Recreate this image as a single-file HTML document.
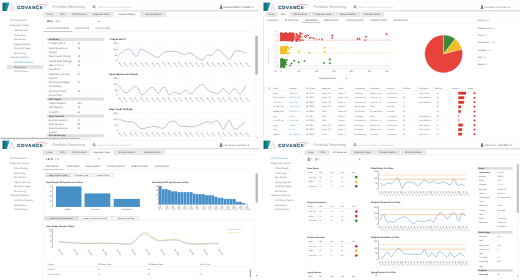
<!DOCTYPE html><html><head><meta charset="utf-8"><style>
html,body{margin:0;padding:0;background:#fff;}
body{width:520px;height:280px;overflow:hidden;position:relative;font-family:'Liberation Sans', Arial, sans-serif;text-rendering:geometricPrecision;}
.p{position:absolute;overflow:hidden;background:#fff;filter:blur(0.3px);}
.t{position:absolute;white-space:nowrap;line-height:1.15;}
.s{position:absolute;overflow:visible;}
</style></head><body>
<div class="p" style="left:0px;top:0px;width:259px;height:142px;z-index:1">
<svg class="s" style="left:0;top:0" width="259" height="142" viewBox="0 0 259 142"><defs><linearGradient id="lg1" x1="0" x2="1" y1="0" y2="0"><stop offset="0" stop-color="#0b5f6b"/><stop offset="1" stop-color="#25aebf"/></linearGradient></defs>
<polygon points="2.5,2.4 9.7,2.4 6.8,10.9 2.5,10.9" fill="url(#lg1)"/>
<polygon points="9.3,10.9 11.7,2.6 15.3,10.9" fill="#e4e1e6"/>
<polygon points="10.2,10.9 11.8,5 14.2,10.9" fill="#f3f1f3"/>
<path d="M35.0,5.7 Q41,3.0 47.4,5.4" stroke="#d9587a" stroke-width="0.5" fill="none"/><path d="M43.2,7.6 L46.2,7.0" stroke="#a9dbe6" stroke-width="0.7" fill="none"/>
<circle cx="93.9" cy="6.6" r="1.05" stroke="#555" stroke-width="0.55" fill="none"/><line x1="94.7" y1="7.4" x2="95.7" y2="8.4" stroke="#555" stroke-width="0.65"/>
<circle cx="221.1" cy="6.1" r="0.95" fill="#555"/><path d="M219.6,8.8 Q219.7,7.1 221.1,7.1 Q222.5,7.1 222.6,8.8 Z" fill="#555"/>
<line x1="0.00" y1="2.20" x2="259.00" y2="2.20" stroke="#f0f0f0" stroke-width="0.4"/>
<defs><linearGradient id="hblg1" x1="0" x2="1" y1="0" y2="0"><stop offset="0" stop-color="#dedede" stop-opacity="0"/><stop offset="0.33" stop-color="#dedede" stop-opacity="0.15"/><stop offset="0.55" stop-color="#dedede" stop-opacity="1"/><stop offset="1" stop-color="#dcdcdc"/></linearGradient></defs>
<rect x="0.00" y="10.10" width="259.00" height="1.30" fill="url(#hblg1)"/>
<rect x="43.40" y="11.90" width="11.90" height="4.70" fill="#cdcdcd" rx="0.5"/>
<rect x="43.75" y="12.30" width="11.20" height="4.00" fill="#ebebeb" rx="0.3"/>
<rect x="56.50" y="11.90" width="12.00" height="4.70" fill="#cdcdcd" rx="0.5"/>
<rect x="56.85" y="12.30" width="11.30" height="4.00" fill="#ebebeb" rx="0.3"/>
<rect x="69.70" y="11.90" width="19.40" height="4.70" fill="#cdcdcd" rx="0.5"/>
<rect x="70.05" y="12.30" width="18.70" height="4.00" fill="#ebebeb" rx="0.3"/>
<rect x="90.30" y="11.90" width="22.20" height="4.70" fill="#cdcdcd" rx="0.5"/>
<rect x="90.65" y="12.30" width="21.50" height="4.00" fill="#ebebeb" rx="0.3"/>
<rect x="113.50" y="11.70" width="26.80" height="5.30" fill="#e3e3e3"/>
<rect x="113.90" y="12.10" width="26.00" height="5.30" fill="#fff"/>
<rect x="141.30" y="11.90" width="24.60" height="4.70" fill="#cdcdcd" rx="0.5"/>
<rect x="141.65" y="12.30" width="23.90" height="4.00" fill="#ebebeb" rx="0.3"/>
<line x1="43.00" y1="17.00" x2="43.00" y2="142.00" stroke="#ededed" stroke-width="0.5"/>
<rect x="6.70" y="65.10" width="36.20" height="3.80" fill="#e3e3e3"/>
<line x1="43.00" y1="17.10" x2="259.00" y2="17.10" stroke="#ececec" stroke-width="0.4"/>
<polygon points="98.2,21.1 99.8,21.1 99,22.0" fill="#444"/>
<rect x="43.40" y="31.10" width="28.40" height="0.60" fill="#8a939b"/>
<line x1="43.00" y1="31.80" x2="255.00" y2="31.80" stroke="#e8e8e8" stroke-width="0.4"/>
<rect x="46.40" y="38.10" width="57.60" height="3.00" fill="#dedede" rx="1.5"/>
<line x1="46.40" y1="45.70" x2="104.00" y2="45.70" stroke="#f0f0f0" stroke-width="0.35"/>
<line x1="46.40" y1="54.30" x2="104.00" y2="54.30" stroke="#f0f0f0" stroke-width="0.35"/>
<line x1="46.40" y1="58.80" x2="104.00" y2="58.80" stroke="#f0f0f0" stroke-width="0.35"/>
<line x1="46.40" y1="63.10" x2="104.00" y2="63.10" stroke="#f0f0f0" stroke-width="0.35"/>
<line x1="46.40" y1="71.70" x2="104.00" y2="71.70" stroke="#f0f0f0" stroke-width="0.35"/>
<line x1="46.40" y1="80.20" x2="104.00" y2="80.20" stroke="#f0f0f0" stroke-width="0.35"/>
<line x1="46.40" y1="88.80" x2="104.00" y2="88.80" stroke="#f0f0f0" stroke-width="0.35"/>
<rect x="46.40" y="97.60" width="57.60" height="3.00" fill="#dedede" rx="1.5"/>
<line x1="46.40" y1="105.40" x2="104.00" y2="105.40" stroke="#f0f0f0" stroke-width="0.35"/>
<line x1="46.40" y1="109.70" x2="104.00" y2="109.70" stroke="#f0f0f0" stroke-width="0.35"/>
<rect x="46.40" y="114.40" width="57.60" height="3.00" fill="#dedede" rx="1.5"/>
<rect x="46.40" y="134.20" width="57.60" height="3.00" fill="#dedede" rx="1.5"/>
<line x1="46.40" y1="122.20" x2="104.00" y2="122.20" stroke="#f0f0f0" stroke-width="0.35"/>
<line x1="46.40" y1="126.40" x2="104.00" y2="126.40" stroke="#f0f0f0" stroke-width="0.35"/>
<line x1="118.20" y1="42.00" x2="118.20" y2="61.10" stroke="#c4c4c4" stroke-width="0.35"/>
<line x1="118.20" y1="43.00" x2="246.00" y2="43.00" stroke="#e4e4e4" stroke-width="0.35" stroke-dasharray="0.6,0.6"/>
<line x1="118.20" y1="49.30" x2="246.00" y2="49.30" stroke="#e4e4e4" stroke-width="0.35" stroke-dasharray="0.6,0.6"/>
<line x1="118.20" y1="54.80" x2="246.00" y2="54.80" stroke="#e4e4e4" stroke-width="0.35" stroke-dasharray="0.6,0.6"/>
<line x1="118.20" y1="60.60" x2="246.00" y2="60.60" stroke="#e4e4e4" stroke-width="0.35" stroke-dasharray="0.6,0.6"/>
<polyline points="119.00,54.50 119.79,53.93 120.90,53.10 122.21,52.14 123.58,51.19 124.89,50.36 126.00,49.80 126.91,49.46 127.71,49.24 128.46,49.14 129.17,49.21 129.91,49.45 130.70,49.90 131.55,50.78 132.43,52.12 133.33,53.64 134.23,55.07 135.13,56.11 136.00,56.50 136.80,55.99 137.54,54.77 138.27,53.16 139.05,51.52 139.94,50.19 141.00,49.50 142.28,49.53 143.74,50.02 145.31,50.82 146.93,51.77 148.51,52.71 150.00,53.50 151.40,54.27 152.76,55.16 154.09,56.05 155.41,56.81 156.71,57.30 158.00,57.40 159.23,56.95 160.39,56.03 161.53,54.84 162.72,53.60 164.02,52.52 165.50,51.80 167.23,51.44 169.17,51.29 171.23,51.28 173.29,51.39 175.25,51.58 177.00,51.80 178.54,52.14 179.97,52.66 181.29,53.24 182.53,53.81 183.69,54.26 184.80,54.50 185.74,54.40 186.49,54.00 187.16,53.49 187.89,53.03 188.79,52.81 190.00,53.00 191.63,53.79 193.62,55.10 195.79,56.63 197.96,58.13 199.95,59.31 201.60,59.90 202.86,59.78 203.87,59.13 204.71,58.16 205.46,57.10 206.19,56.14 207.00,55.50 207.84,55.25 208.64,55.22 209.44,55.30 210.24,55.37 211.09,55.31 212.00,55.00 212.93,54.24 213.86,53.08 214.83,51.79 215.88,50.64 217.06,49.89 218.40,49.80 220.01,50.70 221.89,52.44 223.88,54.57 225.87,56.67 227.72,58.30 229.30,59.00 230.52,58.55 231.47,57.26 232.28,55.48 233.09,53.60 234.01,51.98 235.20,51.00 236.79,50.72 238.72,50.85 240.77,51.25 242.74,51.76 244.42,52.23 245.60,52.50" fill="none" stroke="#8aa3be" stroke-width="0.62" stroke-linejoin="round"/>
<line x1="118.20" y1="77.00" x2="118.20" y2="96.10" stroke="#c4c4c4" stroke-width="0.35"/>
<line x1="118.20" y1="78.00" x2="246.00" y2="78.00" stroke="#e4e4e4" stroke-width="0.35" stroke-dasharray="0.6,0.6"/>
<line x1="118.20" y1="84.30" x2="246.00" y2="84.30" stroke="#e4e4e4" stroke-width="0.35" stroke-dasharray="0.6,0.6"/>
<line x1="118.20" y1="89.80" x2="246.00" y2="89.80" stroke="#e4e4e4" stroke-width="0.35" stroke-dasharray="0.6,0.6"/>
<line x1="118.20" y1="95.60" x2="246.00" y2="95.60" stroke="#e4e4e4" stroke-width="0.35" stroke-dasharray="0.6,0.6"/>
<polyline points="119.00,85.60 119.73,86.56 120.70,88.01 121.88,89.67 123.19,91.23 124.58,92.41 126.00,92.90 127.54,92.42 129.26,91.13 131.06,89.46 132.85,87.81 134.53,86.59 136.00,86.20 137.19,86.95 138.15,88.56 139.00,90.61 139.85,92.64 140.81,94.22 142.00,94.90 143.48,94.42 145.19,93.07 147.00,91.28 148.81,89.44 150.52,87.97 152.00,87.30 153.23,87.64 154.30,88.72 155.25,90.18 156.15,91.64 157.05,92.77 158.00,93.20 159.01,92.68 160.04,91.45 161.06,89.88 162.07,88.34 163.06,87.19 164.00,86.80 164.89,87.40 165.74,88.73 166.56,90.46 167.37,92.24 168.18,93.74 169.00,94.60 169.82,94.72 170.63,94.33 171.44,93.66 172.26,92.91 173.11,92.29 174.00,92.00 174.95,92.13 175.94,92.53 176.96,93.06 177.99,93.57 179.01,93.93 180.00,94.00 180.96,93.66 181.90,93.00 182.84,92.18 183.76,91.38 184.68,90.77 185.60,90.50 186.45,90.78 187.22,91.50 187.99,92.40 188.82,93.23 189.80,93.71 191.00,93.60 192.50,92.61 194.27,90.89 196.17,88.84 198.11,86.83 199.96,85.26 201.60,84.50 203.00,84.73 204.23,85.66 205.37,87.03 206.50,88.55 207.69,89.97 209.00,91.00 210.50,91.73 212.15,92.41 213.85,92.97 215.52,93.37 217.06,93.56 218.40,93.50 219.48,92.98 220.36,92.00 221.12,90.81 221.83,89.67 222.57,88.81 223.40,88.50 224.34,88.94 225.33,89.96 226.35,91.28 227.37,92.59 228.36,93.60 229.30,94.00 230.18,93.59 231.00,92.58 231.80,91.26 232.60,89.94 233.43,88.92 234.30,88.50 235.24,88.91 236.22,89.95 237.23,91.29 238.24,92.60 239.24,93.55 240.20,93.80 241.19,93.17 242.24,91.88 243.27,90.23 244.22,88.51 245.02,87.00 245.60,86.00" fill="none" stroke="#8aa3be" stroke-width="0.62" stroke-linejoin="round"/>
<line x1="118.20" y1="112.00" x2="118.20" y2="131.10" stroke="#c4c4c4" stroke-width="0.35"/>
<line x1="118.20" y1="113.00" x2="246.00" y2="113.00" stroke="#e4e4e4" stroke-width="0.35" stroke-dasharray="0.6,0.6"/>
<line x1="118.20" y1="119.30" x2="246.00" y2="119.30" stroke="#e4e4e4" stroke-width="0.35" stroke-dasharray="0.6,0.6"/>
<line x1="118.20" y1="124.80" x2="246.00" y2="124.80" stroke="#e4e4e4" stroke-width="0.35" stroke-dasharray="0.6,0.6"/>
<line x1="118.20" y1="130.60" x2="246.00" y2="130.60" stroke="#e4e4e4" stroke-width="0.35" stroke-dasharray="0.6,0.6"/>
<polyline points="119.00,119.20 119.75,119.47 120.78,119.84 122.00,120.29 123.33,120.74 124.69,121.17 126.00,121.50 127.29,121.69 128.63,121.75 130.00,121.78 131.37,121.85 132.71,122.06 134.00,122.50 135.20,123.28 136.33,124.37 137.44,125.60 138.56,126.79 139.73,127.78 141.00,128.40 142.43,128.58 144.00,128.44 145.62,128.10 147.22,127.67 148.71,127.27 150.00,127.00 151.02,126.84 151.83,126.69 152.53,126.57 153.22,126.49 154.01,126.46 155.00,126.50 156.24,126.72 157.65,127.14 159.16,127.61 160.69,128.00 162.16,128.18 163.50,128.00 164.70,127.32 165.83,126.23 166.91,124.93 167.94,123.60 168.97,122.46 170.00,121.70 171.06,121.33 172.12,121.17 173.17,121.21 174.19,121.38 175.14,121.66 176.00,122.00 176.71,122.49 177.27,123.19 177.77,123.99 178.29,124.79 178.90,125.49 179.70,126.00 180.70,126.29 181.85,126.44 183.10,126.50 184.40,126.50 185.72,126.49 187.00,126.50 188.20,126.59 189.36,126.72 190.52,126.84 191.76,126.89 193.13,126.80 194.70,126.50 196.62,125.88 198.87,124.96 201.25,123.91 203.58,122.87 205.66,122.02 207.30,121.50 208.39,121.41 209.07,121.65 209.50,122.06 209.85,122.52 210.30,122.88 211.00,123.00 212.00,122.75 213.16,122.21 214.41,121.58 215.68,121.03 216.90,120.78 218.00,121.00 218.96,121.99 219.84,123.64 220.68,125.58 221.49,127.43 222.32,128.79 223.20,129.30 224.13,128.61 225.09,126.95 226.06,124.81 227.04,122.69 228.02,121.05 229.00,120.40 229.93,121.04 230.80,122.65 231.67,124.75 232.60,126.87 233.66,128.55 234.90,129.30 236.48,128.94 238.39,127.80 240.42,126.21 242.37,124.49 244.03,122.98 245.20,122.00" fill="none" stroke="#8aa3be" stroke-width="0.62" stroke-linejoin="round"/>
<line x1="254.90" y1="35.00" x2="254.90" y2="140.00" stroke="#efefef" stroke-width="0.4"/>
<rect x="255.30" y="35.60" width="2.50" height="38.80" fill="#b4b4b4" rx="1"/>
<polygon points="255.9,137.6 257.5,137.6 256.7,138.6" fill="#666"/></svg>
<div class="t" style="left:17.3px;top:4.60px;font-size:4.4px;font-weight:bold;letter-spacing:0.62px;color:#25526f;-webkit-text-stroke:0.18px #25526f">COVANCE</div>
<div class="t" style="left:52.60px;top:5.23px;font-size:3.95px;color:#a2a2a2;">Portfolio Reporting</div>
<div class="t" style="left:98.00px;top:6.93px;font-size:2.2px;color:#b8b8b8;">Search to identify one study quickly</div>
<div class="t" style="left:223.20px;top:6.74px;font-size:2.6px;color:#606060;">ALEXANDER D CURRY &#8744;</div>
<div class="t" style="left:19.00px;top:6.40px;font-size:1.3px;color:#dcd6da;letter-spacing:0.25px;">SOLUTIONS MADE REAL</div>
<div class="t" style="left:49.35px;top:14.08px;font-size:2.2px;color:#505050;transform:translateX(-50%);">Home</div>
<div class="t" style="left:62.50px;top:14.08px;font-size:2.2px;color:#505050;transform:translateX(-50%);">SPIs</div>
<div class="t" style="left:79.40px;top:14.08px;font-size:2.2px;color:#505050;transform:translateX(-50%);">KPI Scorecard</div>
<div class="t" style="left:101.40px;top:14.08px;font-size:2.2px;color:#505050;transform:translateX(-50%);">Diagnostic Views</div>
<div class="t" style="left:126.90px;top:14.08px;font-size:2.2px;color:#494949;transform:translateX(-50%);">Standard Metrics</div>
<div class="t" style="left:153.60px;top:14.08px;font-size:2.2px;color:#505050;transform:translateX(-50%);">Standard Metrics</div>
<div class="t" style="left:38.30px;top:13.26px;font-size:3.0px;color:#666666;">&#8249;</div>
<div class="t" style="left:10.00px;top:19.84px;font-size:2.55px;color:#868686;">KPI Scorecard</div>
<div class="t" style="left:10.00px;top:25.24px;font-size:2.55px;color:#868686;">Diagnostic Views</div>
<div class="t" style="left:14.00px;top:30.24px;font-size:2.55px;color:#868686;">Sites Ready</div>
<div class="t" style="left:14.00px;top:34.64px;font-size:2.55px;color:#868686;">Screening</div>
<div class="t" style="left:14.00px;top:39.14px;font-size:2.55px;color:#868686;">Enrollment</div>
<div class="t" style="left:14.00px;top:43.74px;font-size:2.55px;color:#868686;">Aging Queries</div>
<div class="t" style="left:14.00px;top:48.24px;font-size:2.55px;color:#868686;">Missing Pages</div>
<div class="t" style="left:14.00px;top:52.64px;font-size:2.55px;color:#868686;">Monitoring</div>
<div class="t" style="left:10.00px;top:57.34px;font-size:2.55px;color:#868686;">Standard Metrics</div>
<div class="t" style="left:14.00px;top:62.04px;font-size:2.55px;color:#41a3b5;">All Other Metrics</div>
<div class="t" style="left:14.00px;top:66.74px;font-size:2.55px;color:#686868;">Milestones</div>
<div class="t" style="left:14.00px;top:71.24px;font-size:2.55px;color:#868686;">Cycle Times</div>
<div class="t" style="left:46.80px;top:21.28px;font-size:2.4px;color:#3a3a3a;font-weight:bold;">JM-A</div>
<div class="t" style="left:54.40px;top:21.25px;font-size:2.3px;color:#747474;">&#8216;USD&#8217;</div>
<div class="t" style="left:46.40px;top:28.23px;font-size:2.2px;color:#666666;">ALL OTHER METRICS</div>
<div class="t" style="left:75.20px;top:28.23px;font-size:2.2px;color:#747474;">MILESTONES</div>
<div class="t" style="left:95.50px;top:28.23px;font-size:2.2px;color:#747474;">CYCLE TIMES</div>
<div class="t" style="left:48.80px;top:39.35px;font-size:2.3px;color:#494949;font-weight:bold;">Summary</div>
<div class="t" style="left:48.80px;top:43.28px;font-size:2.4px;color:#6e6e6e;"># Pages SDV&#8217;d</div>
<div class="t" style="left:77.50px;top:43.28px;font-size:2.4px;color:#6e6e6e;">68</div>
<div class="t" style="left:48.80px;top:47.68px;font-size:2.4px;color:#6e6e6e;">Open Queries per</div>
<div class="t" style="left:77.50px;top:47.68px;font-size:2.4px;color:#6e6e6e;">75</div>
<div class="t" style="left:48.80px;top:51.78px;font-size:2.4px;color:#6e6e6e;">Subject</div>
<div class="t" style="left:48.80px;top:56.38px;font-size:2.4px;color:#6e6e6e;">Major Audit Findings</div>
<div class="t" style="left:77.50px;top:56.38px;font-size:2.4px;color:#6e6e6e;">46</div>
<div class="t" style="left:48.80px;top:60.68px;font-size:2.4px;color:#6e6e6e;">Critical Audit Findings</div>
<div class="t" style="left:77.50px;top:60.68px;font-size:2.4px;color:#6e6e6e;">34</div>
<div class="t" style="left:48.80px;top:65.08px;font-size:2.4px;color:#6e6e6e;">Major Protocol</div>
<div class="t" style="left:77.50px;top:65.08px;font-size:2.4px;color:#6e6e6e;">36</div>
<div class="t" style="left:48.80px;top:69.28px;font-size:2.4px;color:#6e6e6e;">Deviations</div>
<div class="t" style="left:48.80px;top:73.58px;font-size:2.4px;color:#6e6e6e;">Database Lock and</div>
<div class="t" style="left:77.50px;top:73.58px;font-size:2.4px;color:#6e6e6e;">27</div>
<div class="t" style="left:48.80px;top:77.78px;font-size:2.4px;color:#6e6e6e;">Reports</div>
<div class="t" style="left:48.80px;top:82.28px;font-size:2.4px;color:#6e6e6e;">Monitoring Strategy</div>
<div class="t" style="left:77.50px;top:82.28px;font-size:2.4px;color:#6e6e6e;">17</div>
<div class="t" style="left:48.80px;top:86.48px;font-size:2.4px;color:#6e6e6e;">Compliance</div>
<div class="t" style="left:48.80px;top:90.68px;font-size:2.4px;color:#6e6e6e;">Trip Report Turn</div>
<div class="t" style="left:77.50px;top:90.68px;font-size:2.4px;color:#6e6e6e;">18</div>
<div class="t" style="left:48.80px;top:94.78px;font-size:2.4px;color:#6e6e6e;">Around Time</div>
<div class="t" style="left:48.80px;top:98.85px;font-size:2.3px;color:#494949;font-weight:bold;">EDC Pages</div>
<div class="t" style="left:48.80px;top:103.08px;font-size:2.4px;color:#6e6e6e;">Pages Required</div>
<div class="t" style="left:77.50px;top:103.08px;font-size:2.4px;color:#6e6e6e;">433</div>
<div class="t" style="left:48.80px;top:107.38px;font-size:2.4px;color:#6e6e6e;">SDV Backlog</div>
<div class="t" style="left:77.50px;top:107.38px;font-size:2.4px;color:#6e6e6e;">24</div>
<div class="t" style="left:48.80px;top:111.68px;font-size:2.4px;color:#6e6e6e;">% SDV&#8217;d</div>
<div class="t" style="left:77.50px;top:111.68px;font-size:2.4px;color:#6e6e6e;">32</div>
<div class="t" style="left:48.80px;top:115.65px;font-size:2.3px;color:#494949;font-weight:bold;">Open Queries</div>
<div class="t" style="left:48.80px;top:135.45px;font-size:2.3px;color:#494949;font-weight:bold;">Site Monitoring</div>
<div class="t" style="left:48.80px;top:119.88px;font-size:2.4px;color:#6e6e6e;">Enrolled Subjects</div>
<div class="t" style="left:77.50px;top:119.88px;font-size:2.4px;color:#6e6e6e;">27</div>
<div class="t" style="left:48.80px;top:124.08px;font-size:2.4px;color:#6e6e6e;">Open Queries</div>
<div class="t" style="left:77.50px;top:124.08px;font-size:2.4px;color:#6e6e6e;">96</div>
<div class="t" style="left:48.80px;top:128.28px;font-size:2.4px;color:#6e6e6e;">Open Queries per</div>
<div class="t" style="left:77.50px;top:128.28px;font-size:2.4px;color:#6e6e6e;">79</div>
<div class="t" style="left:48.80px;top:132.48px;font-size:2.4px;color:#6e6e6e;">Subject</div>
<div class="t" style="left:109.30px;top:39.06px;font-size:2.35px;color:#2b2b2b;font-weight:bold;"># Pages SDV&#8217;d</div>
<div class="t" style="left:117.30px;top:42.74px;font-size:2.25px;color:#5b5b5b;transform:translateX(-100%);">150</div>
<div class="t" style="left:117.30px;top:49.04px;font-size:2.25px;color:#5b5b5b;transform:translateX(-100%);">100</div>
<div class="t" style="left:117.30px;top:54.54px;font-size:2.25px;color:#5b5b5b;transform:translateX(-100%);">50</div>
<div class="t" style="left:117.30px;top:60.34px;font-size:2.25px;color:#5b5b5b;transform:translateX(-100%);">0</div>
<div class="t" style="left:118.60px;top:62.40px;font-size:1.9px;color:#5e5e5e;transform:rotate(50deg);transform-origin:0 0;">Jan&nbsp;17</div>
<div class="t" style="left:124.12px;top:62.40px;font-size:1.9px;color:#5e5e5e;transform:rotate(50deg);transform-origin:0 0;">Jan&nbsp;17</div>
<div class="t" style="left:129.64px;top:62.40px;font-size:1.9px;color:#5e5e5e;transform:rotate(50deg);transform-origin:0 0;">Jan&nbsp;17</div>
<div class="t" style="left:135.16px;top:62.40px;font-size:1.9px;color:#5e5e5e;transform:rotate(50deg);transform-origin:0 0;">Jan&nbsp;17</div>
<div class="t" style="left:140.68px;top:62.40px;font-size:1.9px;color:#5e5e5e;transform:rotate(50deg);transform-origin:0 0;">Jan&nbsp;17</div>
<div class="t" style="left:146.20px;top:62.40px;font-size:1.9px;color:#5e5e5e;transform:rotate(50deg);transform-origin:0 0;">Jan&nbsp;17</div>
<div class="t" style="left:151.72px;top:62.40px;font-size:1.9px;color:#5e5e5e;transform:rotate(50deg);transform-origin:0 0;">Jan&nbsp;17</div>
<div class="t" style="left:157.24px;top:62.40px;font-size:1.9px;color:#5e5e5e;transform:rotate(50deg);transform-origin:0 0;">Jan&nbsp;17</div>
<div class="t" style="left:162.76px;top:62.40px;font-size:1.9px;color:#5e5e5e;transform:rotate(50deg);transform-origin:0 0;">Jan&nbsp;17</div>
<div class="t" style="left:168.28px;top:62.40px;font-size:1.9px;color:#5e5e5e;transform:rotate(50deg);transform-origin:0 0;">Jan&nbsp;17</div>
<div class="t" style="left:173.80px;top:62.40px;font-size:1.9px;color:#5e5e5e;transform:rotate(50deg);transform-origin:0 0;">Jan&nbsp;17</div>
<div class="t" style="left:179.32px;top:62.40px;font-size:1.9px;color:#5e5e5e;transform:rotate(50deg);transform-origin:0 0;">Jan&nbsp;17</div>
<div class="t" style="left:184.84px;top:62.40px;font-size:1.9px;color:#5e5e5e;transform:rotate(50deg);transform-origin:0 0;">Jan&nbsp;17</div>
<div class="t" style="left:190.36px;top:62.40px;font-size:1.9px;color:#5e5e5e;transform:rotate(50deg);transform-origin:0 0;">Jan&nbsp;17</div>
<div class="t" style="left:195.88px;top:62.40px;font-size:1.9px;color:#5e5e5e;transform:rotate(50deg);transform-origin:0 0;">Jan&nbsp;17</div>
<div class="t" style="left:201.40px;top:62.40px;font-size:1.9px;color:#5e5e5e;transform:rotate(50deg);transform-origin:0 0;">Jan&nbsp;17</div>
<div class="t" style="left:206.92px;top:62.40px;font-size:1.9px;color:#5e5e5e;transform:rotate(50deg);transform-origin:0 0;">Jan&nbsp;17</div>
<div class="t" style="left:212.44px;top:62.40px;font-size:1.9px;color:#5e5e5e;transform:rotate(50deg);transform-origin:0 0;">Jan&nbsp;17</div>
<div class="t" style="left:217.96px;top:62.40px;font-size:1.9px;color:#5e5e5e;transform:rotate(50deg);transform-origin:0 0;">Jan&nbsp;17</div>
<div class="t" style="left:223.48px;top:62.40px;font-size:1.9px;color:#5e5e5e;transform:rotate(50deg);transform-origin:0 0;">Jan&nbsp;17</div>
<div class="t" style="left:229.00px;top:62.40px;font-size:1.9px;color:#5e5e5e;transform:rotate(50deg);transform-origin:0 0;">Jan&nbsp;17</div>
<div class="t" style="left:234.52px;top:62.40px;font-size:1.9px;color:#5e5e5e;transform:rotate(50deg);transform-origin:0 0;">Jan&nbsp;17</div>
<div class="t" style="left:240.04px;top:62.40px;font-size:1.9px;color:#5e5e5e;transform:rotate(50deg);transform-origin:0 0;">Jan&nbsp;17</div>
<div class="t" style="left:245.56px;top:62.40px;font-size:1.9px;color:#5e5e5e;transform:rotate(50deg);transform-origin:0 0;">Jan&nbsp;17</div>
<div class="t" style="left:109.30px;top:74.06px;font-size:2.35px;color:#2b2b2b;font-weight:bold;">Open Queries per Subject</div>
<div class="t" style="left:117.30px;top:77.74px;font-size:2.25px;color:#5b5b5b;transform:translateX(-100%);">150</div>
<div class="t" style="left:117.30px;top:84.04px;font-size:2.25px;color:#5b5b5b;transform:translateX(-100%);">100</div>
<div class="t" style="left:117.30px;top:89.54px;font-size:2.25px;color:#5b5b5b;transform:translateX(-100%);">50</div>
<div class="t" style="left:117.30px;top:95.34px;font-size:2.25px;color:#5b5b5b;transform:translateX(-100%);">0</div>
<div class="t" style="left:118.60px;top:97.40px;font-size:1.9px;color:#5e5e5e;transform:rotate(50deg);transform-origin:0 0;">Jan&nbsp;17</div>
<div class="t" style="left:124.12px;top:97.40px;font-size:1.9px;color:#5e5e5e;transform:rotate(50deg);transform-origin:0 0;">Jan&nbsp;17</div>
<div class="t" style="left:129.64px;top:97.40px;font-size:1.9px;color:#5e5e5e;transform:rotate(50deg);transform-origin:0 0;">Jan&nbsp;17</div>
<div class="t" style="left:135.16px;top:97.40px;font-size:1.9px;color:#5e5e5e;transform:rotate(50deg);transform-origin:0 0;">Jan&nbsp;17</div>
<div class="t" style="left:140.68px;top:97.40px;font-size:1.9px;color:#5e5e5e;transform:rotate(50deg);transform-origin:0 0;">Jan&nbsp;17</div>
<div class="t" style="left:146.20px;top:97.40px;font-size:1.9px;color:#5e5e5e;transform:rotate(50deg);transform-origin:0 0;">Jan&nbsp;17</div>
<div class="t" style="left:151.72px;top:97.40px;font-size:1.9px;color:#5e5e5e;transform:rotate(50deg);transform-origin:0 0;">Jan&nbsp;17</div>
<div class="t" style="left:157.24px;top:97.40px;font-size:1.9px;color:#5e5e5e;transform:rotate(50deg);transform-origin:0 0;">Jan&nbsp;17</div>
<div class="t" style="left:162.76px;top:97.40px;font-size:1.9px;color:#5e5e5e;transform:rotate(50deg);transform-origin:0 0;">Jan&nbsp;17</div>
<div class="t" style="left:168.28px;top:97.40px;font-size:1.9px;color:#5e5e5e;transform:rotate(50deg);transform-origin:0 0;">Jan&nbsp;17</div>
<div class="t" style="left:173.80px;top:97.40px;font-size:1.9px;color:#5e5e5e;transform:rotate(50deg);transform-origin:0 0;">Jan&nbsp;17</div>
<div class="t" style="left:179.32px;top:97.40px;font-size:1.9px;color:#5e5e5e;transform:rotate(50deg);transform-origin:0 0;">Jan&nbsp;17</div>
<div class="t" style="left:184.84px;top:97.40px;font-size:1.9px;color:#5e5e5e;transform:rotate(50deg);transform-origin:0 0;">Jan&nbsp;17</div>
<div class="t" style="left:190.36px;top:97.40px;font-size:1.9px;color:#5e5e5e;transform:rotate(50deg);transform-origin:0 0;">Jan&nbsp;17</div>
<div class="t" style="left:195.88px;top:97.40px;font-size:1.9px;color:#5e5e5e;transform:rotate(50deg);transform-origin:0 0;">Jan&nbsp;17</div>
<div class="t" style="left:201.40px;top:97.40px;font-size:1.9px;color:#5e5e5e;transform:rotate(50deg);transform-origin:0 0;">Jan&nbsp;17</div>
<div class="t" style="left:206.92px;top:97.40px;font-size:1.9px;color:#5e5e5e;transform:rotate(50deg);transform-origin:0 0;">Jan&nbsp;17</div>
<div class="t" style="left:212.44px;top:97.40px;font-size:1.9px;color:#5e5e5e;transform:rotate(50deg);transform-origin:0 0;">Jan&nbsp;17</div>
<div class="t" style="left:217.96px;top:97.40px;font-size:1.9px;color:#5e5e5e;transform:rotate(50deg);transform-origin:0 0;">Jan&nbsp;17</div>
<div class="t" style="left:223.48px;top:97.40px;font-size:1.9px;color:#5e5e5e;transform:rotate(50deg);transform-origin:0 0;">Jan&nbsp;17</div>
<div class="t" style="left:229.00px;top:97.40px;font-size:1.9px;color:#5e5e5e;transform:rotate(50deg);transform-origin:0 0;">Jan&nbsp;17</div>
<div class="t" style="left:234.52px;top:97.40px;font-size:1.9px;color:#5e5e5e;transform:rotate(50deg);transform-origin:0 0;">Jan&nbsp;17</div>
<div class="t" style="left:240.04px;top:97.40px;font-size:1.9px;color:#5e5e5e;transform:rotate(50deg);transform-origin:0 0;">Jan&nbsp;17</div>
<div class="t" style="left:245.56px;top:97.40px;font-size:1.9px;color:#5e5e5e;transform:rotate(50deg);transform-origin:0 0;">Jan&nbsp;17</div>
<div class="t" style="left:109.30px;top:108.86px;font-size:2.35px;color:#2b2b2b;font-weight:bold;">Major Audit Findings</div>
<div class="t" style="left:117.30px;top:112.74px;font-size:2.25px;color:#5b5b5b;transform:translateX(-100%);">150</div>
<div class="t" style="left:117.30px;top:119.04px;font-size:2.25px;color:#5b5b5b;transform:translateX(-100%);">100</div>
<div class="t" style="left:117.30px;top:124.54px;font-size:2.25px;color:#5b5b5b;transform:translateX(-100%);">50</div>
<div class="t" style="left:117.30px;top:130.34px;font-size:2.25px;color:#5b5b5b;transform:translateX(-100%);">0</div>
<div class="t" style="left:118.60px;top:131.60px;font-size:1.9px;color:#5e5e5e;transform:rotate(50deg);transform-origin:0 0;">Jan&nbsp;17</div>
<div class="t" style="left:124.12px;top:131.60px;font-size:1.9px;color:#5e5e5e;transform:rotate(50deg);transform-origin:0 0;">Jan&nbsp;17</div>
<div class="t" style="left:129.64px;top:131.60px;font-size:1.9px;color:#5e5e5e;transform:rotate(50deg);transform-origin:0 0;">Jan&nbsp;17</div>
<div class="t" style="left:135.16px;top:131.60px;font-size:1.9px;color:#5e5e5e;transform:rotate(50deg);transform-origin:0 0;">Jan&nbsp;17</div>
<div class="t" style="left:140.68px;top:131.60px;font-size:1.9px;color:#5e5e5e;transform:rotate(50deg);transform-origin:0 0;">Jan&nbsp;17</div>
<div class="t" style="left:146.20px;top:131.60px;font-size:1.9px;color:#5e5e5e;transform:rotate(50deg);transform-origin:0 0;">Jan&nbsp;17</div>
<div class="t" style="left:151.72px;top:131.60px;font-size:1.9px;color:#5e5e5e;transform:rotate(50deg);transform-origin:0 0;">Jan&nbsp;17</div>
<div class="t" style="left:157.24px;top:131.60px;font-size:1.9px;color:#5e5e5e;transform:rotate(50deg);transform-origin:0 0;">Jan&nbsp;17</div>
<div class="t" style="left:162.76px;top:131.60px;font-size:1.9px;color:#5e5e5e;transform:rotate(50deg);transform-origin:0 0;">Jan&nbsp;17</div>
<div class="t" style="left:168.28px;top:131.60px;font-size:1.9px;color:#5e5e5e;transform:rotate(50deg);transform-origin:0 0;">Jan&nbsp;17</div>
<div class="t" style="left:173.80px;top:131.60px;font-size:1.9px;color:#5e5e5e;transform:rotate(50deg);transform-origin:0 0;">Jan&nbsp;17</div>
<div class="t" style="left:179.32px;top:131.60px;font-size:1.9px;color:#5e5e5e;transform:rotate(50deg);transform-origin:0 0;">Jan&nbsp;17</div>
<div class="t" style="left:184.84px;top:131.60px;font-size:1.9px;color:#5e5e5e;transform:rotate(50deg);transform-origin:0 0;">Jan&nbsp;17</div>
<div class="t" style="left:190.36px;top:131.60px;font-size:1.9px;color:#5e5e5e;transform:rotate(50deg);transform-origin:0 0;">Jan&nbsp;17</div>
<div class="t" style="left:195.88px;top:131.60px;font-size:1.9px;color:#5e5e5e;transform:rotate(50deg);transform-origin:0 0;">Jan&nbsp;17</div>
<div class="t" style="left:201.40px;top:131.60px;font-size:1.9px;color:#5e5e5e;transform:rotate(50deg);transform-origin:0 0;">Jan&nbsp;17</div>
<div class="t" style="left:206.92px;top:131.60px;font-size:1.9px;color:#5e5e5e;transform:rotate(50deg);transform-origin:0 0;">Jan&nbsp;17</div>
<div class="t" style="left:212.44px;top:131.60px;font-size:1.9px;color:#5e5e5e;transform:rotate(50deg);transform-origin:0 0;">Jan&nbsp;17</div>
<div class="t" style="left:217.96px;top:131.60px;font-size:1.9px;color:#5e5e5e;transform:rotate(50deg);transform-origin:0 0;">Jan&nbsp;17</div>
<div class="t" style="left:223.48px;top:131.60px;font-size:1.9px;color:#5e5e5e;transform:rotate(50deg);transform-origin:0 0;">Jan&nbsp;17</div>
<div class="t" style="left:229.00px;top:131.60px;font-size:1.9px;color:#5e5e5e;transform:rotate(50deg);transform-origin:0 0;">Jan&nbsp;17</div>
<div class="t" style="left:234.52px;top:131.60px;font-size:1.9px;color:#5e5e5e;transform:rotate(50deg);transform-origin:0 0;">Jan&nbsp;17</div>
<div class="t" style="left:240.04px;top:131.60px;font-size:1.9px;color:#5e5e5e;transform:rotate(50deg);transform-origin:0 0;">Jan&nbsp;17</div>
<div class="t" style="left:245.56px;top:131.60px;font-size:1.9px;color:#5e5e5e;transform:rotate(50deg);transform-origin:0 0;">Jan&nbsp;17</div>
</div>
<div style="position:absolute;left:0;top:136.7px;width:91px;height:3.0px;background:#f4f4f4;z-index:10;border-radius:0 1px 0 0"></div>
<div class="t" style="left:1.00px;top:137.75px;font-size:2.1px;color:#4d4d4d;z-index:11;">dfwfbsreporting001.covance.com/Dashboards/Standard_Metrics_All.aspx#/milestones</div>
<div class="p" style="left:261px;top:0px;width:259px;height:142px;z-index:2">
<svg class="s" style="left:0;top:0" width="259" height="142" viewBox="0 0 259 142"><defs><linearGradient id="lg2" x1="0" x2="1" y1="0" y2="0"><stop offset="0" stop-color="#0b5f6b"/><stop offset="1" stop-color="#25aebf"/></linearGradient></defs>
<polygon points="2.5,2.4 9.7,2.4 6.8,10.9 2.5,10.9" fill="url(#lg2)"/>
<polygon points="9.3,10.9 11.7,2.6 15.3,10.9" fill="#e4e1e6"/>
<polygon points="10.2,10.9 11.8,5 14.2,10.9" fill="#f3f1f3"/>
<path d="M35.0,5.7 Q41,3.0 47.4,5.4" stroke="#d9587a" stroke-width="0.5" fill="none"/><path d="M43.2,7.6 L46.2,7.0" stroke="#a9dbe6" stroke-width="0.7" fill="none"/>
<circle cx="93.9" cy="6.6" r="1.05" stroke="#555" stroke-width="0.55" fill="none"/><line x1="94.7" y1="7.4" x2="95.7" y2="8.4" stroke="#555" stroke-width="0.65"/>
<circle cx="221.1" cy="6.1" r="0.95" fill="#555"/><path d="M219.6,8.8 Q219.7,7.1 221.1,7.1 Q222.5,7.1 222.6,8.8 Z" fill="#555"/>
<line x1="0.00" y1="2.20" x2="259.00" y2="2.20" stroke="#f0f0f0" stroke-width="0.4"/>
<defs><linearGradient id="hblg2" x1="0" x2="1" y1="0" y2="0"><stop offset="0" stop-color="#dedede" stop-opacity="0"/><stop offset="0.33" stop-color="#dedede" stop-opacity="0.15"/><stop offset="0.55" stop-color="#dedede" stop-opacity="1"/><stop offset="1" stop-color="#dcdcdc"/></linearGradient></defs>
<rect x="0.00" y="10.10" width="259.00" height="1.30" fill="url(#hblg2)"/>
<rect x="4.90" y="11.90" width="10.90" height="4.70" fill="#cdcdcd" rx="0.5"/>
<rect x="5.25" y="12.30" width="10.20" height="4.00" fill="#ebebeb" rx="0.3"/>
<rect x="16.50" y="11.70" width="11.80" height="5.30" fill="#e3e3e3"/>
<rect x="16.90" y="12.10" width="11.00" height="5.30" fill="#fff"/>
<rect x="29.00" y="11.90" width="21.00" height="4.70" fill="#cdcdcd" rx="0.5"/>
<rect x="29.35" y="12.30" width="20.30" height="4.00" fill="#ebebeb" rx="0.3"/>
<rect x="50.90" y="11.90" width="23.00" height="4.70" fill="#cdcdcd" rx="0.5"/>
<rect x="51.25" y="12.30" width="22.30" height="4.00" fill="#ebebeb" rx="0.3"/>
<rect x="74.80" y="11.90" width="24.40" height="4.70" fill="#cdcdcd" rx="0.5"/>
<rect x="75.15" y="12.30" width="23.70" height="4.00" fill="#ebebeb" rx="0.3"/>
<rect x="100.10" y="11.90" width="22.70" height="4.70" fill="#cdcdcd" rx="0.5"/>
<rect x="100.45" y="12.30" width="22.00" height="4.00" fill="#ebebeb" rx="0.3"/>
<line x1="2.60" y1="16.50" x2="2.60" y2="142.00" stroke="#d4d8dc" stroke-width="0.6"/>
<line x1="3.00" y1="16.90" x2="259.00" y2="16.90" stroke="#ededed" stroke-width="0.4"/>
<rect x="41.00" y="22.30" width="18.50" height="0.60" fill="#8a939b"/>
<line x1="3.00" y1="23.00" x2="214.00" y2="23.00" stroke="#f2f2f2" stroke-width="0.35"/>
<line x1="214.60" y1="16.50" x2="214.60" y2="138.00" stroke="#ececec" stroke-width="0.4" stroke-dasharray="0.5,0.5"/>
<line x1="16.40" y1="29.50" x2="16.40" y2="68.50" stroke="#cfcfcf" stroke-width="0.35"/>
<line x1="16.40" y1="68.50" x2="130.00" y2="68.50" stroke="#d6d6d6" stroke-width="0.35"/>
<line x1="20.00" y1="29.50" x2="20.00" y2="68.50" stroke="#f0f0f0" stroke-width="0.35"/>
<line x1="38.00" y1="29.50" x2="38.00" y2="68.50" stroke="#f0f0f0" stroke-width="0.35"/>
<line x1="55.50" y1="29.50" x2="55.50" y2="68.50" stroke="#f0f0f0" stroke-width="0.35"/>
<line x1="73.00" y1="29.50" x2="73.00" y2="68.50" stroke="#f0f0f0" stroke-width="0.35"/>
<line x1="90.70" y1="29.50" x2="90.70" y2="68.50" stroke="#f0f0f0" stroke-width="0.35"/>
<line x1="108.40" y1="29.50" x2="108.40" y2="68.50" stroke="#f0f0f0" stroke-width="0.35"/>
<line x1="126.00" y1="29.50" x2="126.00" y2="68.50" stroke="#f0f0f0" stroke-width="0.35"/>
<line x1="16.40" y1="40.20" x2="130.20" y2="40.20" stroke="#f0a7a0" stroke-width="0.45"/>
<line x1="16.40" y1="53.20" x2="130.20" y2="53.20" stroke="#f5e2a0" stroke-width="0.45"/>
<line x1="16.40" y1="65.80" x2="130.20" y2="65.80" stroke="#cfe0c8" stroke-width="0.45"/>
<polygon points="84.6,78.0 86.0,78.0 85.3,78.9" fill="#555"/>
<rect x="19.6" y="32.9" width="13.5" height="8.0" fill="#e2413a" rx="0.8"/>
<circle cx="24.23" cy="33.81" r="0.8" fill="#e2413a"/><circle cx="31.23" cy="33.13" r="0.8" fill="#e2413a"/><circle cx="28.61" cy="35.68" r="0.8" fill="#e2413a"/><circle cx="20.01" cy="36.91" r="0.8" fill="#e2413a"/><circle cx="19.79" cy="36.27" r="0.8" fill="#e2413a"/><circle cx="20.14" cy="33.29" r="0.8" fill="#e2413a"/><circle cx="26.23" cy="39.69" r="0.8" fill="#e2413a"/><circle cx="20.86" cy="34.44" r="0.8" fill="#e2413a"/><circle cx="30.68" cy="40.75" r="0.8" fill="#e2413a"/><circle cx="29.53" cy="35.95" r="0.8" fill="#e2413a"/><circle cx="39.37" cy="32.91" r="0.8" fill="#e2413a"/><circle cx="36.31" cy="35.02" r="0.8" fill="#e2413a"/><circle cx="21.15" cy="33.52" r="0.8" fill="#e2413a"/><circle cx="23.94" cy="39.60" r="0.8" fill="#e2413a"/><circle cx="21.72" cy="37.56" r="0.8" fill="#e2413a"/><circle cx="30.95" cy="35.74" r="0.8" fill="#e2413a"/><circle cx="28.87" cy="33.05" r="0.8" fill="#e2413a"/><circle cx="20.02" cy="34.29" r="0.8" fill="#e2413a"/><circle cx="31.93" cy="36.22" r="0.8" fill="#e2413a"/><circle cx="24.05" cy="37.59" r="0.8" fill="#e2413a"/><circle cx="26.83" cy="35.11" r="0.8" fill="#e2413a"/><circle cx="34.70" cy="38.58" r="0.8" fill="#e2413a"/><circle cx="22.78" cy="37.50" r="0.8" fill="#e2413a"/><circle cx="28.38" cy="40.11" r="0.8" fill="#e2413a"/><circle cx="33.10" cy="35.01" r="0.8" fill="#e2413a"/><circle cx="39.47" cy="33.53" r="0.8" fill="#e2413a"/><circle cx="26.10" cy="39.09" r="0.8" fill="#e2413a"/><circle cx="21.27" cy="36.75" r="0.8" fill="#e2413a"/><circle cx="19.80" cy="38.31" r="0.8" fill="#e2413a"/><circle cx="33.96" cy="37.49" r="0.8" fill="#e2413a"/><circle cx="36.75" cy="35.23" r="0.8" fill="#e2413a"/><circle cx="32.28" cy="37.67" r="0.8" fill="#e2413a"/><circle cx="29.60" cy="36.47" r="0.8" fill="#e2413a"/><circle cx="35.84" cy="40.72" r="0.8" fill="#e2413a"/><circle cx="27.27" cy="38.28" r="0.8" fill="#e2413a"/><circle cx="20.04" cy="38.60" r="0.8" fill="#e2413a"/><circle cx="31.14" cy="41.14" r="0.8" fill="#e2413a"/><circle cx="35.39" cy="34.98" r="0.8" fill="#e2413a"/><circle cx="25.44" cy="38.32" r="0.8" fill="#e2413a"/><circle cx="19.65" cy="36.52" r="0.8" fill="#e2413a"/><circle cx="21.52" cy="33.52" r="0.8" fill="#e2413a"/><circle cx="20.02" cy="39.18" r="0.8" fill="#e2413a"/><circle cx="20.94" cy="34.65" r="0.8" fill="#e2413a"/><circle cx="25.55" cy="40.08" r="0.8" fill="#e2413a"/><circle cx="20.28" cy="36.41" r="0.8" fill="#e2413a"/><circle cx="28.91" cy="40.19" r="0.8" fill="#e2413a"/><circle cx="35.32" cy="40.02" r="0.8" fill="#e2413a"/><circle cx="23.39" cy="36.11" r="0.8" fill="#e2413a"/><circle cx="24.91" cy="40.19" r="0.8" fill="#e2413a"/><circle cx="38.88" cy="33.81" r="0.8" fill="#e2413a"/><circle cx="21.65" cy="34.52" r="0.8" fill="#e2413a"/><circle cx="22.59" cy="36.72" r="0.8" fill="#e2413a"/><circle cx="29.80" cy="34.79" r="0.8" fill="#e2413a"/><circle cx="19.52" cy="36.14" r="0.8" fill="#e2413a"/><circle cx="25.11" cy="37.43" r="0.8" fill="#e2413a"/><circle cx="38.76" cy="38.51" r="0.8" fill="#e2413a"/><circle cx="28.16" cy="37.87" r="0.8" fill="#e2413a"/><circle cx="31.83" cy="32.97" r="0.8" fill="#e2413a"/><circle cx="37.36" cy="39.29" r="0.8" fill="#e2413a"/><circle cx="36.72" cy="39.44" r="0.8" fill="#e2413a"/><circle cx="25.58" cy="35.97" r="0.8" fill="#e2413a"/><circle cx="20.57" cy="38.02" r="0.8" fill="#e2413a"/><circle cx="20.05" cy="33.09" r="0.8" fill="#e2413a"/><circle cx="22.17" cy="33.91" r="0.8" fill="#e2413a"/><circle cx="24.54" cy="32.96" r="0.8" fill="#e2413a"/><circle cx="19.50" cy="33.82" r="0.8" fill="#e2413a"/><circle cx="20.55" cy="35.66" r="0.8" fill="#e2413a"/><circle cx="19.67" cy="40.11" r="0.8" fill="#e2413a"/><circle cx="30.38" cy="33.79" r="0.8" fill="#e2413a"/><circle cx="22.92" cy="35.52" r="0.8" fill="#e2413a"/><circle cx="25.01" cy="33.57" r="0.8" fill="#e2413a"/><circle cx="36.07" cy="41.14" r="0.8" fill="#e2413a"/><circle cx="27.10" cy="36.71" r="0.8" fill="#e2413a"/><circle cx="20.34" cy="33.39" r="0.8" fill="#e2413a"/><circle cx="24.59" cy="34.80" r="0.8" fill="#e2413a"/><circle cx="35.56" cy="33.90" r="0.8" fill="#e2413a"/><circle cx="19.65" cy="40.77" r="0.8" fill="#e2413a"/><circle cx="28.44" cy="33.78" r="0.8" fill="#e2413a"/><circle cx="28.77" cy="32.74" r="0.8" fill="#e2413a"/><circle cx="28.44" cy="41.01" r="0.8" fill="#e2413a"/><circle cx="36.43" cy="38.56" r="0.8" fill="#e2413a"/><circle cx="23.08" cy="35.69" r="0.8" fill="#e2413a"/><circle cx="21.50" cy="39.22" r="0.8" fill="#e2413a"/><circle cx="28.54" cy="39.28" r="0.8" fill="#e2413a"/><circle cx="24.34" cy="34.44" r="0.8" fill="#e2413a"/><circle cx="35.13" cy="41.07" r="0.8" fill="#e2413a"/><circle cx="36.16" cy="39.51" r="0.8" fill="#e2413a"/><circle cx="35.30" cy="38.94" r="0.8" fill="#e2413a"/><circle cx="22.48" cy="37.00" r="0.8" fill="#e2413a"/><circle cx="24.84" cy="32.75" r="0.8" fill="#e2413a"/><circle cx="19.70" cy="34.93" r="0.8" fill="#e2413a"/><circle cx="23.04" cy="38.52" r="0.8" fill="#e2413a"/><circle cx="38.85" cy="36.39" r="0.8" fill="#e2413a"/><circle cx="38.34" cy="41.10" r="0.8" fill="#e2413a"/><circle cx="38.81" cy="35.67" r="0.8" fill="#e2413a"/><circle cx="22.37" cy="34.47" r="0.8" fill="#e2413a"/><circle cx="21.98" cy="34.28" r="0.8" fill="#e2413a"/><circle cx="30.61" cy="40.33" r="0.8" fill="#e2413a"/><circle cx="35.85" cy="36.67" r="0.8" fill="#e2413a"/><circle cx="31.28" cy="39.46" r="0.8" fill="#e2413a"/><circle cx="20.33" cy="38.25" r="0.8" fill="#e2413a"/><circle cx="37.63" cy="39.31" r="0.8" fill="#e2413a"/><circle cx="33.61" cy="36.66" r="0.8" fill="#e2413a"/><circle cx="21.68" cy="39.37" r="0.8" fill="#e2413a"/><circle cx="24.40" cy="39.47" r="0.8" fill="#e2413a"/><circle cx="39.25" cy="35.94" r="0.8" fill="#e2413a"/><circle cx="25.76" cy="40.74" r="0.8" fill="#e2413a"/><circle cx="32.99" cy="33.98" r="0.8" fill="#e2413a"/><circle cx="20.90" cy="33.82" r="0.8" fill="#e2413a"/><circle cx="37.50" cy="39.52" r="0.8" fill="#e2413a"/>
<circle cx="35.34" cy="39.53" r="0.7" fill="#e2413a"/><circle cx="48.68" cy="38.30" r="0.7" fill="#e2413a"/><circle cx="38.61" cy="37.51" r="0.7" fill="#e2413a"/><circle cx="35.10" cy="33.60" r="0.7" fill="#e2413a"/><circle cx="48.53" cy="38.24" r="0.7" fill="#e2413a"/><circle cx="41.43" cy="40.32" r="0.7" fill="#e2413a"/><circle cx="39.94" cy="39.86" r="0.7" fill="#e2413a"/><circle cx="46.22" cy="35.04" r="0.7" fill="#e2413a"/><circle cx="37.03" cy="35.64" r="0.7" fill="#e2413a"/><circle cx="36.85" cy="37.78" r="0.7" fill="#e2413a"/><circle cx="37.15" cy="36.56" r="0.7" fill="#e2413a"/><circle cx="35.10" cy="40.14" r="0.7" fill="#e2413a"/><circle cx="38.66" cy="36.84" r="0.7" fill="#e2413a"/><circle cx="42.33" cy="40.10" r="0.7" fill="#e2413a"/><circle cx="39.73" cy="40.20" r="0.7" fill="#e2413a"/><circle cx="41.03" cy="37.38" r="0.7" fill="#e2413a"/><circle cx="41.38" cy="33.64" r="0.7" fill="#e2413a"/><circle cx="40.04" cy="34.84" r="0.7" fill="#e2413a"/><circle cx="33.06" cy="39.33" r="0.7" fill="#e2413a"/><circle cx="35.76" cy="36.96" r="0.7" fill="#e2413a"/><circle cx="44.60" cy="37.56" r="0.7" fill="#e2413a"/><circle cx="38.22" cy="37.28" r="0.7" fill="#e2413a"/>
<circle cx="43.5" cy="36.2" r="0.7" fill="#e2413a"/>
<circle cx="44.6" cy="35.6" r="0.7" fill="#e2413a"/>
<circle cx="45.6" cy="36.4" r="0.7" fill="#e2413a"/>
<circle cx="47.5" cy="35.4" r="0.7" fill="#e2413a"/>
<circle cx="49" cy="37.5" r="0.7" fill="#e2413a"/>
<circle cx="50.8" cy="37.8" r="0.7" fill="#e2413a"/>
<circle cx="52.4" cy="38.3" r="0.7" fill="#e2413a"/>
<circle cx="53.6" cy="38.6" r="0.7" fill="#e2413a"/>
<circle cx="55.8" cy="39.6" r="0.7" fill="#e2413a"/>
<circle cx="58.2" cy="39.2" r="0.7" fill="#e2413a"/>
<circle cx="60.6" cy="38.6" r="0.7" fill="#e2413a"/>
<circle cx="61.2" cy="39.8" r="0.7" fill="#e2413a"/>
<circle cx="71.2" cy="35.4" r="0.95" fill="#e2413a"/>
<circle cx="71.3" cy="37.9" r="0.95" fill="#e2413a"/>
<circle cx="96.5" cy="39.0" r="0.95" fill="#e2413a"/>
<circle cx="98.5" cy="38.8" r="0.95" fill="#e2413a"/>
<circle cx="105.0" cy="36.8" r="0.95" fill="#e2413a"/>
<circle cx="104.2" cy="40.1" r="0.95" fill="#e2413a"/>
<circle cx="125.5" cy="34.2" r="0.95" fill="#e2413a"/>
<rect x="19.4" y="46.3" width="6.6" height="7.3" fill="#f2bd22"/>
<circle cx="23.94" cy="52.20" r="0.8" fill="#f2bd22"/><circle cx="20.11" cy="50.43" r="0.8" fill="#f2bd22"/><circle cx="21.19" cy="48.19" r="0.8" fill="#f2bd22"/><circle cx="26.10" cy="50.01" r="0.8" fill="#f2bd22"/><circle cx="24.00" cy="52.00" r="0.8" fill="#f2bd22"/><circle cx="27.56" cy="49.50" r="0.8" fill="#f2bd22"/><circle cx="24.50" cy="49.99" r="0.8" fill="#f2bd22"/><circle cx="23.53" cy="51.47" r="0.8" fill="#f2bd22"/><circle cx="22.97" cy="50.21" r="0.8" fill="#f2bd22"/><circle cx="23.21" cy="53.44" r="0.8" fill="#f2bd22"/><circle cx="25.36" cy="52.92" r="0.8" fill="#f2bd22"/><circle cx="27.88" cy="48.05" r="0.8" fill="#f2bd22"/><circle cx="23.98" cy="53.45" r="0.8" fill="#f2bd22"/><circle cx="26.80" cy="47.08" r="0.8" fill="#f2bd22"/><circle cx="20.22" cy="49.49" r="0.8" fill="#f2bd22"/><circle cx="19.89" cy="47.90" r="0.8" fill="#f2bd22"/><circle cx="19.89" cy="51.29" r="0.8" fill="#f2bd22"/><circle cx="26.22" cy="53.09" r="0.8" fill="#f2bd22"/><circle cx="20.46" cy="51.66" r="0.8" fill="#f2bd22"/><circle cx="24.97" cy="47.13" r="0.8" fill="#f2bd22"/><circle cx="27.25" cy="53.64" r="0.8" fill="#f2bd22"/><circle cx="20.96" cy="53.52" r="0.8" fill="#f2bd22"/><circle cx="22.48" cy="49.85" r="0.8" fill="#f2bd22"/><circle cx="28.39" cy="52.58" r="0.8" fill="#f2bd22"/><circle cx="20.51" cy="49.41" r="0.8" fill="#f2bd22"/><circle cx="23.56" cy="48.68" r="0.8" fill="#f2bd22"/><circle cx="20.77" cy="48.52" r="0.8" fill="#f2bd22"/><circle cx="25.59" cy="46.15" r="0.8" fill="#f2bd22"/><circle cx="23.93" cy="49.48" r="0.8" fill="#f2bd22"/><circle cx="19.57" cy="48.62" r="0.8" fill="#f2bd22"/><circle cx="24.61" cy="50.05" r="0.8" fill="#f2bd22"/><circle cx="19.83" cy="53.78" r="0.8" fill="#f2bd22"/><circle cx="26.27" cy="53.68" r="0.8" fill="#f2bd22"/><circle cx="20.10" cy="48.10" r="0.8" fill="#f2bd22"/><circle cx="19.69" cy="52.15" r="0.8" fill="#f2bd22"/><circle cx="21.37" cy="47.02" r="0.8" fill="#f2bd22"/><circle cx="22.70" cy="53.20" r="0.8" fill="#f2bd22"/><circle cx="26.58" cy="48.04" r="0.8" fill="#f2bd22"/><circle cx="20.42" cy="53.26" r="0.8" fill="#f2bd22"/><circle cx="24.09" cy="51.53" r="0.8" fill="#f2bd22"/>
<circle cx="30.6" cy="47.6" r="0.95" fill="#f2bd22"/>
<circle cx="37.6" cy="51.4" r="0.95" fill="#f2bd22"/>
<circle cx="48.3" cy="52.8" r="0.95" fill="#f2bd22"/>
<circle cx="63.8" cy="47.7" r="0.95" fill="#f2bd22"/>
<circle cx="63.8" cy="51.7" r="0.95" fill="#f2bd22"/>
<rect x="19.4" y="59.0" width="4.6" height="8.4" fill="#3d8a36"/>
<circle cx="19.89" cy="59.21" r="0.8" fill="#3d8a36"/><circle cx="23.97" cy="62.49" r="0.8" fill="#3d8a36"/><circle cx="19.80" cy="67.05" r="0.8" fill="#3d8a36"/><circle cx="23.55" cy="65.83" r="0.8" fill="#3d8a36"/><circle cx="19.86" cy="66.32" r="0.8" fill="#3d8a36"/><circle cx="19.77" cy="66.38" r="0.8" fill="#3d8a36"/><circle cx="22.21" cy="61.72" r="0.8" fill="#3d8a36"/><circle cx="22.94" cy="66.95" r="0.8" fill="#3d8a36"/><circle cx="20.94" cy="59.85" r="0.8" fill="#3d8a36"/><circle cx="22.74" cy="60.82" r="0.8" fill="#3d8a36"/><circle cx="19.99" cy="60.14" r="0.8" fill="#3d8a36"/><circle cx="19.69" cy="60.50" r="0.8" fill="#3d8a36"/><circle cx="21.23" cy="61.41" r="0.8" fill="#3d8a36"/><circle cx="24.53" cy="61.28" r="0.8" fill="#3d8a36"/><circle cx="22.55" cy="60.28" r="0.8" fill="#3d8a36"/><circle cx="21.47" cy="58.86" r="0.8" fill="#3d8a36"/><circle cx="20.83" cy="58.84" r="0.8" fill="#3d8a36"/><circle cx="24.32" cy="63.60" r="0.8" fill="#3d8a36"/><circle cx="20.45" cy="62.93" r="0.8" fill="#3d8a36"/><circle cx="25.95" cy="59.65" r="0.8" fill="#3d8a36"/><circle cx="25.01" cy="62.55" r="0.8" fill="#3d8a36"/><circle cx="22.51" cy="66.13" r="0.8" fill="#3d8a36"/><circle cx="21.78" cy="63.21" r="0.8" fill="#3d8a36"/><circle cx="23.97" cy="67.44" r="0.8" fill="#3d8a36"/><circle cx="21.44" cy="66.11" r="0.8" fill="#3d8a36"/><circle cx="24.12" cy="64.36" r="0.8" fill="#3d8a36"/><circle cx="21.86" cy="61.79" r="0.8" fill="#3d8a36"/><circle cx="19.71" cy="59.86" r="0.8" fill="#3d8a36"/><circle cx="19.79" cy="65.29" r="0.8" fill="#3d8a36"/><circle cx="20.86" cy="60.15" r="0.8" fill="#3d8a36"/><circle cx="19.86" cy="66.19" r="0.8" fill="#3d8a36"/><circle cx="25.43" cy="64.67" r="0.8" fill="#3d8a36"/><circle cx="21.03" cy="60.86" r="0.8" fill="#3d8a36"/><circle cx="21.10" cy="62.79" r="0.8" fill="#3d8a36"/><circle cx="20.26" cy="62.67" r="0.8" fill="#3d8a36"/><circle cx="20.91" cy="67.26" r="0.8" fill="#3d8a36"/>
<circle cx="25.2" cy="60.2" r="0.95" fill="#3d8a36"/>
<circle cx="29.2" cy="65.6" r="0.95" fill="#3d8a36"/>
<circle cx="30.6" cy="63.5" r="0.95" fill="#3d8a36"/>
<circle cx="33.3" cy="60.8" r="0.95" fill="#3d8a36"/>
<circle cx="37.7" cy="62.2" r="0.95" fill="#3d8a36"/>
<circle cx="43.4" cy="61.1" r="0.95" fill="#3d8a36"/>
<circle cx="63.1" cy="62.9" r="0.95" fill="#3d8a36"/>
<circle cx="68.9" cy="59.5" r="0.95" fill="#3d8a36"/>
<circle cx="68.9" cy="63.3" r="0.95" fill="#3d8a36"/>
<path d="M182.6,53.9 L200.86,49.01 A18.9,18.9 0 1 1 182.60,35.00 Z" fill="#e8433b" stroke="#fff" stroke-width="0.3"/><path d="M182.6,53.9 L182.60,35.00 A18.9,18.9 0 0 1 194.24,39.01 Z" fill="#3c8a37" stroke="#fff" stroke-width="0.3"/><path d="M182.6,53.9 L194.24,39.01 A18.9,18.9 0 0 1 200.86,49.01 Z" fill="#f2bd22" stroke="#fff" stroke-width="0.3"/>
<text x="187" y="89.4" font-size="2" fill="#888">&#8595;</text>
<line x1="3.00" y1="90.60" x2="214.00" y2="90.60" stroke="#e0e0e0" stroke-width="0.35"/>
<rect x="197.30" y="91.80" width="7.70" height="2.80" fill="#d9342b"/>
<circle cx="213.5" cy="93.20" r="1.0" fill="#d9342b"/>
<line x1="3.00" y1="95.47" x2="214.00" y2="95.47" stroke="#f8f8f8" stroke-width="0.3"/>
<rect x="197.30" y="96.35" width="6.00" height="2.80" fill="#d9342b"/>
<circle cx="213.5" cy="97.75" r="1.0" fill="#d9342b"/>
<line x1="3.00" y1="100.02" x2="214.00" y2="100.02" stroke="#f8f8f8" stroke-width="0.3"/>
<rect x="197.30" y="100.90" width="5.60" height="2.80" fill="#d9342b"/>
<circle cx="213.5" cy="102.30" r="1.0" fill="#d9342b"/>
<line x1="3.00" y1="104.57" x2="214.00" y2="104.57" stroke="#f8f8f8" stroke-width="0.3"/>
<rect x="197.30" y="105.45" width="2.80" height="2.80" fill="#d9342b"/>
<circle cx="213.5" cy="106.85" r="1.0" fill="#d9342b"/>
<line x1="3.00" y1="109.12" x2="214.00" y2="109.12" stroke="#f8f8f8" stroke-width="0.3"/>
<rect x="197.30" y="110.00" width="2.40" height="2.80" fill="#d9342b"/>
<circle cx="213.5" cy="111.40" r="1.0" fill="#d9342b"/>
<line x1="3.00" y1="113.67" x2="214.00" y2="113.67" stroke="#f8f8f8" stroke-width="0.3"/>
<rect x="197.30" y="114.55" width="0.50" height="2.80" fill="#d9342b"/>
<circle cx="213.5" cy="115.95" r="1.0" fill="#d9342b"/>
<line x1="3.00" y1="118.22" x2="214.00" y2="118.22" stroke="#f8f8f8" stroke-width="0.3"/>
<rect x="197.30" y="119.10" width="0.50" height="2.80" fill="#d9342b"/>
<circle cx="213.5" cy="120.50" r="1.0" fill="#d9342b"/>
<line x1="3.00" y1="122.77" x2="214.00" y2="122.77" stroke="#f8f8f8" stroke-width="0.3"/>
<rect x="197.30" y="123.65" width="4.50" height="2.80" fill="#d9342b"/>
<circle cx="213.5" cy="125.05" r="1.0" fill="#d9342b"/>
<line x1="3.00" y1="127.32" x2="214.00" y2="127.32" stroke="#f8f8f8" stroke-width="0.3"/>
<rect x="197.30" y="128.20" width="3.80" height="2.80" fill="#d9342b"/>
<circle cx="213.5" cy="129.60" r="1.0" fill="#d9342b"/>
<line x1="3.00" y1="131.87" x2="214.00" y2="131.87" stroke="#f8f8f8" stroke-width="0.3"/>
<rect x="197.30" y="132.75" width="3.60" height="2.80" fill="#d9342b"/>
<circle cx="213.5" cy="134.15" r="1.0" fill="#d9342b"/></svg>
<div class="t" style="left:17.3px;top:4.60px;font-size:4.4px;font-weight:bold;letter-spacing:0.62px;color:#25526f;-webkit-text-stroke:0.18px #25526f">COVANCE</div>
<div class="t" style="left:52.60px;top:5.23px;font-size:3.95px;color:#a2a2a2;">Portfolio Reporting</div>
<div class="t" style="left:98.00px;top:6.93px;font-size:2.2px;color:#b8b8b8;">Search to identify one study quickly</div>
<div class="t" style="left:223.20px;top:6.74px;font-size:2.6px;color:#767676;letter-spacing:0.15px;">Lam Bay Lunchkin &#9662;</div>
<div class="t" style="left:19.00px;top:6.40px;font-size:1.3px;color:#dcd6da;letter-spacing:0.25px;">SOLUTIONS MADE REAL</div>
<div class="t" style="left:10.35px;top:14.08px;font-size:2.2px;color:#505050;transform:translateX(-50%);">Home</div>
<div class="t" style="left:22.40px;top:14.08px;font-size:2.2px;color:#494949;transform:translateX(-50%);">SPIs</div>
<div class="t" style="left:39.50px;top:14.08px;font-size:2.2px;color:#505050;transform:translateX(-50%);">KPI Scorecard</div>
<div class="t" style="left:62.40px;top:14.08px;font-size:2.2px;color:#505050;transform:translateX(-50%);">Diagnostic Views</div>
<div class="t" style="left:87.00px;top:14.08px;font-size:2.2px;color:#505050;transform:translateX(-50%);">Standard Metrics</div>
<div class="t" style="left:111.45px;top:14.08px;font-size:2.2px;color:#505050;transform:translateX(-50%);">Standard Metrics</div>
<div class="t" style="left:6.00px;top:20.09px;font-size:2.15px;color:#666666;">OVERVIEW</div>
<div class="t" style="left:23.90px;top:20.09px;font-size:2.15px;color:#666666;">STEN-READY</div>
<div class="t" style="left:44.00px;top:20.09px;font-size:2.15px;color:#494949;">SCREENING</div>
<div class="t" style="left:62.90px;top:20.09px;font-size:2.15px;color:#666666;">ENROLLMENT</div>
<div class="t" style="left:85.00px;top:20.09px;font-size:2.15px;color:#666666;">AGING QUERIES</div>
<div class="t" style="left:109.20px;top:20.09px;font-size:2.15px;color:#666666;">MISSING PAGES</div>
<div class="t" style="left:132.70px;top:20.09px;font-size:2.15px;color:#666666;">MONITORING</div>
<div class="t" style="left:216.70px;top:20.43px;font-size:2.2px;color:#666;">Sponsor&nbsp;<span style="color:#bbb">(13)</span></div>
<div class="t" style="left:216.70px;top:27.75px;font-size:2.2px;color:#666;">Business Unit&nbsp;<span style="color:#bbb">(12)</span></div>
<div class="t" style="left:216.70px;top:35.07px;font-size:2.2px;color:#666;">Phase&nbsp;<span style="color:#bbb">(11)</span></div>
<div class="t" style="left:216.70px;top:42.39px;font-size:2.2px;color:#666;">Therapeutic...&nbsp;<span style="color:#bbb">(13)</span></div>
<div class="t" style="left:216.70px;top:49.71px;font-size:2.2px;color:#666;">Indication&nbsp;<span style="color:#bbb">(11)</span></div>
<div class="t" style="left:216.70px;top:57.03px;font-size:2.2px;color:#666;">Mwt&nbsp;<span style="color:#bbb">(13)</span></div>
<div class="t" style="left:216.70px;top:64.35px;font-size:2.2px;color:#666;">Status&nbsp;<span style="color:#bbb">(16)</span></div>
<div class="t" style="left:14.90px;top:30.67px;font-size:1.9px;color:#666666;transform:translateX(-100%);">4</div>
<div class="t" style="left:14.90px;top:35.27px;font-size:1.9px;color:#666666;transform:translateX(-100%);">2</div>
<div class="t" style="left:14.90px;top:41.17px;font-size:1.9px;color:#666666;transform:translateX(-100%);">0</div>
<div class="t" style="left:14.90px;top:44.77px;font-size:1.9px;color:#666666;transform:translateX(-100%);">4</div>
<div class="t" style="left:14.90px;top:50.07px;font-size:1.9px;color:#666666;transform:translateX(-100%);">2</div>
<div class="t" style="left:14.90px;top:54.17px;font-size:1.9px;color:#666666;transform:translateX(-100%);">0</div>
<div class="t" style="left:14.90px;top:58.37px;font-size:1.9px;color:#666666;transform:translateX(-100%);">4</div>
<div class="t" style="left:14.90px;top:62.07px;font-size:1.9px;color:#666666;transform:translateX(-100%);">2</div>
<div class="t" style="left:14.90px;top:65.97px;font-size:1.9px;color:#666666;transform:translateX(-100%);">0</div>
<div class="t" style="left:6.9px;top:63.5px;font-size:1.75px;color:#999;transform:rotate(-90deg);transform-origin:0 0;">Screening (## Days)</div>
<div class="t" style="left:14.40px;top:71.34px;font-size:2.1px;color:#575757;transform:translateX(-50%);">-20</div>
<div class="t" style="left:20.00px;top:71.34px;font-size:2.1px;color:#575757;transform:translateX(-50%);">0</div>
<div class="t" style="left:38.00px;top:71.34px;font-size:2.1px;color:#575757;transform:translateX(-50%);">100</div>
<div class="t" style="left:55.50px;top:71.34px;font-size:2.1px;color:#575757;transform:translateX(-50%);">200</div>
<div class="t" style="left:73.00px;top:71.34px;font-size:2.1px;color:#575757;transform:translateX(-50%);">300</div>
<div class="t" style="left:90.70px;top:71.34px;font-size:2.1px;color:#575757;transform:translateX(-50%);">400</div>
<div class="t" style="left:108.40px;top:71.34px;font-size:2.1px;color:#575757;transform:translateX(-50%);">500</div>
<div class="t" style="left:126.00px;top:71.34px;font-size:2.1px;color:#575757;transform:translateX(-50%);">600</div>
<div class="t" style="left:58.00px;top:78.09px;font-size:2.15px;color:#494949;">Total (Day/Partial)</div>
<div class="t" style="left:7.00px;top:88.15px;font-size:2.3px;color:#3a3a3a;">&#9660;</div>
<div class="t" style="left:12.10px;top:88.16px;font-size:1.95px;color:#575757;">Client</div>
<div class="t" style="left:28.40px;top:88.16px;font-size:1.95px;color:#575757;">Protocol</div>
<div class="t" style="left:44.90px;top:88.16px;font-size:1.95px;color:#575757;">NCT Code</div>
<div class="t" style="left:61.00px;top:88.16px;font-size:1.95px;color:#575757;">Business...</div>
<div class="t" style="left:77.00px;top:88.16px;font-size:1.95px;color:#575757;">Phase</div>
<div class="t" style="left:93.60px;top:88.16px;font-size:1.95px;color:#575757;">Therapeutic...</div>
<div class="t" style="left:109.30px;top:88.16px;font-size:1.95px;color:#575757;">Indication...</div>
<div class="t" style="left:125.80px;top:88.16px;font-size:1.95px;color:#575757;">Study St...</div>
<div class="t" style="left:141.80px;top:88.16px;font-size:1.95px;color:#575757;">LTD Visi...</div>
<div class="t" style="left:157.90px;top:88.16px;font-size:1.95px;color:#575757;">LTD Miles...</div>
<div class="t" style="left:173.70px;top:88.16px;font-size:1.95px;color:#575757;">Mile Pla...</div>
<div class="t" style="left:190.40px;top:88.16px;font-size:1.95px;color:#575757;">Variance...</div>
<div class="t" style="left:206.50px;top:88.16px;font-size:1.95px;color:#575757;">Status</div>
<div class="t" style="left:12.10px;top:92.76px;font-size:2.0px;color:#767676;">Jacob</div>
<div class="t" style="left:28.40px;top:92.76px;font-size:2.0px;color:#4da3dc;">JOSE-01</div>
<div class="t" style="left:44.90px;top:92.76px;font-size:2.0px;color:#767676;">NCT0792</div>
<div class="t" style="left:61.00px;top:92.76px;font-size:2.0px;color:#767676;">Phase 2/3</div>
<div class="t" style="left:77.00px;top:92.76px;font-size:2.0px;color:#767676;">Phase 3</div>
<div class="t" style="left:93.60px;top:92.76px;font-size:2.0px;color:#767676;">Oncology</div>
<div class="t" style="left:109.30px;top:92.76px;font-size:2.0px;color:#767676;">Cancer, Lym...</div>
<div class="t" style="left:125.80px;top:92.76px;font-size:2.0px;color:#767676;">In Progress</div>
<div class="t" style="left:141.80px;top:92.76px;font-size:2.0px;color:#767676;">27</div>
<div class="t" style="left:157.90px;top:92.76px;font-size:2.0px;color:#767676;">TRIE B soli...</div>
<div class="t" style="left:175.50px;top:92.76px;font-size:2.0px;color:#767676;">34</div>
<div class="t" style="left:205.60px;top:92.80px;font-size:1.5px;color:#838383;">23</div>
<div class="t" style="left:12.10px;top:97.31px;font-size:2.0px;color:#767676;">Chen Nuclear</div>
<div class="t" style="left:28.40px;top:97.31px;font-size:2.0px;color:#4da3dc;">BIO-01-HMT</div>
<div class="t" style="left:44.90px;top:97.31px;font-size:2.0px;color:#767676;">NCT0803</div>
<div class="t" style="left:61.00px;top:97.31px;font-size:2.0px;color:#767676;">Phase 2/3</div>
<div class="t" style="left:77.00px;top:97.31px;font-size:2.0px;color:#767676;">Phase 4 1/2</div>
<div class="t" style="left:93.60px;top:97.31px;font-size:2.0px;color:#767676;">Infectious D...</div>
<div class="t" style="left:109.30px;top:97.31px;font-size:2.0px;color:#767676;">Infection, Ur...</div>
<div class="t" style="left:125.80px;top:97.31px;font-size:2.0px;color:#767676;">In Progress</div>
<div class="t" style="left:141.80px;top:97.31px;font-size:2.0px;color:#767676;">36</div>
<div class="t" style="left:157.90px;top:97.31px;font-size:2.0px;color:#767676;">Final Subject...</div>
<div class="t" style="left:175.50px;top:97.31px;font-size:2.0px;color:#767676;">45</div>
<div class="t" style="left:203.90px;top:97.35px;font-size:1.5px;color:#838383;">18</div>
<div class="t" style="left:12.10px;top:101.86px;font-size:2.0px;color:#767676;">A Hu Ltd</div>
<div class="t" style="left:28.40px;top:101.86px;font-size:2.0px;color:#4da3dc;">NLTY-06</div>
<div class="t" style="left:44.90px;top:101.86px;font-size:2.0px;color:#767676;">NCT0821</div>
<div class="t" style="left:61.00px;top:101.86px;font-size:2.0px;color:#767676;">Phase 2/3</div>
<div class="t" style="left:77.00px;top:101.86px;font-size:2.0px;color:#767676;">Phase 4</div>
<div class="t" style="left:93.60px;top:101.86px;font-size:2.0px;color:#767676;">Infectious D...</div>
<div class="t" style="left:109.30px;top:101.86px;font-size:2.0px;color:#767676;">Infection, Ur...</div>
<div class="t" style="left:125.80px;top:101.86px;font-size:2.0px;color:#767676;">In Progress</div>
<div class="t" style="left:141.80px;top:101.86px;font-size:2.0px;color:#767676;">27</div>
<div class="t" style="left:157.90px;top:101.86px;font-size:2.0px;color:#767676;">Final Subject...</div>
<div class="t" style="left:175.50px;top:101.86px;font-size:2.0px;color:#767676;">48</div>
<div class="t" style="left:203.50px;top:101.90px;font-size:1.5px;color:#838383;">16</div>
<div class="t" style="left:12.10px;top:106.41px;font-size:2.0px;color:#767676;">Hi Labs Via</div>
<div class="t" style="left:28.40px;top:106.41px;font-size:2.0px;color:#4da3dc;">ALPI 119 y...</div>
<div class="t" style="left:44.90px;top:106.41px;font-size:2.0px;color:#767676;">NCT0830</div>
<div class="t" style="left:61.00px;top:106.41px;font-size:2.0px;color:#767676;">Phase 2/3</div>
<div class="t" style="left:77.00px;top:106.41px;font-size:2.0px;color:#767676;">Phase 3/</div>
<div class="t" style="left:93.60px;top:106.41px;font-size:2.0px;color:#767676;">Cardiovascu...</div>
<div class="t" style="left:109.30px;top:106.41px;font-size:2.0px;color:#767676;">Other</div>
<div class="t" style="left:125.80px;top:106.41px;font-size:2.0px;color:#767676;">Awarded</div>
<div class="t" style="left:141.80px;top:106.41px;font-size:2.0px;color:#767676;">33</div>
<div class="t" style="left:157.90px;top:106.41px;font-size:2.0px;color:#767676;"></div>
<div class="t" style="left:175.50px;top:106.41px;font-size:2.0px;color:#767676;">36</div>
<div class="t" style="left:200.70px;top:106.45px;font-size:1.5px;color:#838383;">8</div>
<div class="t" style="left:12.10px;top:110.96px;font-size:2.0px;color:#767676;">Labala Oba</div>
<div class="t" style="left:28.40px;top:110.96px;font-size:2.0px;color:#4da3dc;">OX1078-1-5</div>
<div class="t" style="left:44.90px;top:110.96px;font-size:2.0px;color:#767676;">NCT0842</div>
<div class="t" style="left:61.00px;top:110.96px;font-size:2.0px;color:#767676;">NCE</div>
<div class="t" style="left:77.00px;top:110.96px;font-size:2.0px;color:#767676;">Phase 1/2</div>
<div class="t" style="left:93.60px;top:110.96px;font-size:2.0px;color:#767676;">Non Coded</div>
<div class="t" style="left:109.30px;top:110.96px;font-size:2.0px;color:#767676;">Crystal Illness</div>
<div class="t" style="left:125.80px;top:110.96px;font-size:2.0px;color:#767676;">Awarded</div>
<div class="t" style="left:141.80px;top:110.96px;font-size:2.0px;color:#767676;">34</div>
<div class="t" style="left:157.90px;top:110.96px;font-size:2.0px;color:#767676;"></div>
<div class="t" style="left:175.50px;top:110.96px;font-size:2.0px;color:#767676;">38</div>
<div class="t" style="left:200.30px;top:111.00px;font-size:1.5px;color:#838383;">7</div>
<div class="t" style="left:12.10px;top:115.51px;font-size:2.0px;color:#767676;">Bryn</div>
<div class="t" style="left:28.40px;top:115.51px;font-size:2.0px;color:#4da3dc;">HPN-1</div>
<div class="t" style="left:44.90px;top:115.51px;font-size:2.0px;color:#767676;">NCT0857</div>
<div class="t" style="left:61.00px;top:115.51px;font-size:2.0px;color:#767676;">NCE</div>
<div class="t" style="left:77.00px;top:115.51px;font-size:2.0px;color:#767676;">Phase 1</div>
<div class="t" style="left:93.60px;top:115.51px;font-size:2.0px;color:#767676;">Oncology</div>
<div class="t" style="left:109.30px;top:115.51px;font-size:2.0px;color:#767676;">Other</div>
<div class="t" style="left:125.80px;top:115.51px;font-size:2.0px;color:#767676;">In Progress</div>
<div class="t" style="left:141.80px;top:115.51px;font-size:2.0px;color:#767676;">18</div>
<div class="t" style="left:157.90px;top:115.51px;font-size:2.0px;color:#767676;">Final Subject...</div>
<div class="t" style="left:175.50px;top:115.51px;font-size:2.0px;color:#767676;">30</div>
<div class="t" style="left:198.40px;top:115.55px;font-size:1.5px;color:#838383;">1</div>
<div class="t" style="left:12.10px;top:120.06px;font-size:2.0px;color:#767676;">B.Ny Of Sei</div>
<div class="t" style="left:28.40px;top:120.06px;font-size:2.0px;color:#4da3dc;">Cuser 388</div>
<div class="t" style="left:44.90px;top:120.06px;font-size:2.0px;color:#767676;">NCT0869</div>
<div class="t" style="left:61.00px;top:120.06px;font-size:2.0px;color:#767676;">NCE</div>
<div class="t" style="left:77.00px;top:120.06px;font-size:2.0px;color:#767676;">Phase 3</div>
<div class="t" style="left:93.60px;top:120.06px;font-size:2.0px;color:#767676;">Infectious D...</div>
<div class="t" style="left:109.30px;top:120.06px;font-size:2.0px;color:#767676;">Infection, Ur...</div>
<div class="t" style="left:125.80px;top:120.06px;font-size:2.0px;color:#767676;">In Progress</div>
<div class="t" style="left:141.80px;top:120.06px;font-size:2.0px;color:#767676;">36</div>
<div class="t" style="left:157.90px;top:120.06px;font-size:2.0px;color:#767676;">Final Subject...</div>
<div class="t" style="left:175.50px;top:120.06px;font-size:2.0px;color:#767676;">38</div>
<div class="t" style="left:198.40px;top:120.10px;font-size:1.5px;color:#838383;">1</div>
<div class="t" style="left:12.10px;top:124.61px;font-size:2.0px;color:#767676;">Skye</div>
<div class="t" style="left:28.40px;top:124.61px;font-size:2.0px;color:#4da3dc;">TYMB</div>
<div class="t" style="left:44.90px;top:124.61px;font-size:2.0px;color:#767676;">NCT0871</div>
<div class="t" style="left:61.00px;top:124.61px;font-size:2.0px;color:#767676;">Phase 2/3</div>
<div class="t" style="left:77.00px;top:124.61px;font-size:2.0px;color:#767676;">Phase 3</div>
<div class="t" style="left:93.60px;top:124.61px;font-size:2.0px;color:#767676;">Oncology</div>
<div class="t" style="left:109.30px;top:124.61px;font-size:2.0px;color:#767676;">Cancer, Br...</div>
<div class="t" style="left:125.80px;top:124.61px;font-size:2.0px;color:#767676;">In Progress</div>
<div class="t" style="left:141.80px;top:124.61px;font-size:2.0px;color:#767676;">23</div>
<div class="t" style="left:157.90px;top:124.61px;font-size:2.0px;color:#767676;">Last Sub Fo...</div>
<div class="t" style="left:175.50px;top:124.61px;font-size:2.0px;color:#767676;">27</div>
<div class="t" style="left:202.40px;top:124.65px;font-size:1.5px;color:#838383;">13</div>
<div class="t" style="left:12.10px;top:129.16px;font-size:2.0px;color:#767676;">Bryn</div>
<div class="t" style="left:28.40px;top:129.16px;font-size:2.0px;color:#4da3dc;">LTTT3</div>
<div class="t" style="left:44.90px;top:129.16px;font-size:2.0px;color:#767676;">NCT0888</div>
<div class="t" style="left:61.00px;top:129.16px;font-size:2.0px;color:#767676;">Phase 2/3</div>
<div class="t" style="left:77.00px;top:129.16px;font-size:2.0px;color:#767676;">Phase 3</div>
<div class="t" style="left:93.60px;top:129.16px;font-size:2.0px;color:#767676;">Oncology</div>
<div class="t" style="left:109.30px;top:129.16px;font-size:2.0px;color:#767676;">Cancer, Lym...</div>
<div class="t" style="left:125.80px;top:129.16px;font-size:2.0px;color:#767676;">Awarded</div>
<div class="t" style="left:141.80px;top:129.16px;font-size:2.0px;color:#767676;">21</div>
<div class="t" style="left:157.90px;top:129.16px;font-size:2.0px;color:#767676;">Sites Award...</div>
<div class="t" style="left:175.50px;top:129.16px;font-size:2.0px;color:#767676;">27</div>
<div class="t" style="left:201.70px;top:129.20px;font-size:1.5px;color:#838383;">11</div>
<div class="t" style="left:12.10px;top:133.71px;font-size:2.0px;color:#767676;">Largens</div>
<div class="t" style="left:28.40px;top:133.71px;font-size:2.0px;color:#4da3dc;">XC-TREXT-a</div>
<div class="t" style="left:44.90px;top:133.71px;font-size:2.0px;color:#767676;">NCT0893</div>
<div class="t" style="left:61.00px;top:133.71px;font-size:2.0px;color:#767676;">FHIS</div>
<div class="t" style="left:77.00px;top:133.71px;font-size:2.0px;color:#767676;">Phase 1</div>
<div class="t" style="left:93.60px;top:133.71px;font-size:2.0px;color:#767676;">Dermatology</div>
<div class="t" style="left:109.30px;top:133.71px;font-size:2.0px;color:#767676;">Psoriasis</div>
<div class="t" style="left:125.80px;top:133.71px;font-size:2.0px;color:#767676;">In Progress</div>
<div class="t" style="left:141.80px;top:133.71px;font-size:2.0px;color:#767676;">22</div>
<div class="t" style="left:157.90px;top:133.71px;font-size:2.0px;color:#767676;">First Site Pr...</div>
<div class="t" style="left:175.50px;top:133.71px;font-size:2.0px;color:#767676;">22</div>
<div class="t" style="left:201.50px;top:133.75px;font-size:1.5px;color:#838383;">10</div>
</div>
<div class="p" style="left:0px;top:138px;width:259px;height:142px;z-index:3">
<svg class="s" style="left:0;top:0" width="259" height="142" viewBox="0 0 259 142"><defs><linearGradient id="lg3" x1="0" x2="1" y1="0" y2="0"><stop offset="0" stop-color="#0b5f6b"/><stop offset="1" stop-color="#25aebf"/></linearGradient></defs>
<polygon points="2.5,2.4 9.7,2.4 6.8,10.9 2.5,10.9" fill="url(#lg3)"/>
<polygon points="9.3,10.9 11.7,2.6 15.3,10.9" fill="#e4e1e6"/>
<polygon points="10.2,10.9 11.8,5 14.2,10.9" fill="#f3f1f3"/>
<path d="M35.0,5.7 Q41,3.0 47.4,5.4" stroke="#d9587a" stroke-width="0.5" fill="none"/><path d="M43.2,7.6 L46.2,7.0" stroke="#a9dbe6" stroke-width="0.7" fill="none"/>
<circle cx="93.9" cy="6.6" r="1.05" stroke="#555" stroke-width="0.55" fill="none"/><line x1="94.7" y1="7.4" x2="95.7" y2="8.4" stroke="#555" stroke-width="0.65"/>
<circle cx="221.1" cy="6.1" r="0.95" fill="#555"/><path d="M219.6,8.8 Q219.7,7.1 221.1,7.1 Q222.5,7.1 222.6,8.8 Z" fill="#555"/>
<line x1="0.00" y1="2.20" x2="259.00" y2="2.20" stroke="#f0f0f0" stroke-width="0.4"/>
<defs><linearGradient id="hblg3" x1="0" x2="1" y1="0" y2="0"><stop offset="0" stop-color="#dedede" stop-opacity="0"/><stop offset="0.33" stop-color="#dedede" stop-opacity="0.15"/><stop offset="0.55" stop-color="#dedede" stop-opacity="1"/><stop offset="1" stop-color="#dcdcdc"/></linearGradient></defs>
<rect x="0.00" y="10.10" width="259.00" height="1.30" fill="url(#hblg3)"/>
<rect x="43.40" y="11.90" width="11.90" height="4.70" fill="#cdcdcd" rx="0.5"/>
<rect x="43.75" y="12.30" width="11.20" height="4.00" fill="#ebebeb" rx="0.3"/>
<rect x="56.50" y="11.90" width="12.00" height="4.70" fill="#cdcdcd" rx="0.5"/>
<rect x="56.85" y="12.30" width="11.30" height="4.00" fill="#ebebeb" rx="0.3"/>
<rect x="69.70" y="11.90" width="19.40" height="4.70" fill="#cdcdcd" rx="0.5"/>
<rect x="70.05" y="12.30" width="18.70" height="4.00" fill="#ebebeb" rx="0.3"/>
<rect x="90.10" y="11.70" width="23.40" height="5.30" fill="#e3e3e3"/>
<rect x="90.50" y="12.10" width="22.60" height="5.30" fill="#fff"/>
<rect x="114.50" y="11.90" width="24.40" height="4.70" fill="#cdcdcd" rx="0.5"/>
<rect x="114.85" y="12.30" width="23.70" height="4.00" fill="#ebebeb" rx="0.3"/>
<rect x="140.10" y="11.90" width="24.60" height="4.70" fill="#cdcdcd" rx="0.5"/>
<rect x="140.45" y="12.30" width="23.90" height="4.00" fill="#ebebeb" rx="0.3"/>
<line x1="43.00" y1="17.00" x2="43.00" y2="142.00" stroke="#ededed" stroke-width="0.5"/>
<line x1="43.00" y1="17.10" x2="259.00" y2="17.10" stroke="#ececec" stroke-width="0.4"/>
<polygon points="98.2,20.6 99.8,20.6 99,21.5" fill="#444"/>
<rect x="43.50" y="31.00" width="20.00" height="0.60" fill="#8a939b"/>
<line x1="43.00" y1="31.80" x2="255.00" y2="31.80" stroke="#e8e8e8" stroke-width="0.4"/>
<rect x="45.90" y="35.20" width="24.40" height="3.80" fill="#e2e2e2"/>
<rect x="46.05" y="35.35" width="24.10" height="3.50" fill="none" stroke="#cfcfcf" stroke-width="0.35"/>
<rect x="70.30" y="35.20" width="21.80" height="3.80" fill="#fafafa"/>
<rect x="70.45" y="35.35" width="21.50" height="3.50" fill="none" stroke="#cfcfcf" stroke-width="0.35"/>
<rect x="92.10" y="35.20" width="21.90" height="3.80" fill="#fafafa"/>
<rect x="92.25" y="35.35" width="21.60" height="3.50" fill="none" stroke="#cfcfcf" stroke-width="0.35"/>
<line x1="52.60" y1="47.80" x2="52.60" y2="69.00" stroke="#888" stroke-width="0.45"/>
<line x1="52.60" y1="68.90" x2="142.00" y2="68.90" stroke="#ccc" stroke-width="0.35"/>
<rect x="56.00" y="48.40" width="25.50" height="20.50" fill="#4790c8"/>
<rect x="84.50" y="55.40" width="25.80" height="13.50" fill="#4790c8"/>
<rect x="113.70" y="60.90" width="26.20" height="8.00" fill="#4790c8"/>
<line x1="158.50" y1="47.50" x2="158.50" y2="66.80" stroke="#888" stroke-width="0.45"/>
<rect x="158.80" y="48.00" width="2.84" height="18.60" fill="#4790c8"/>
<rect x="161.89" y="51.20" width="2.84" height="15.40" fill="#4790c8"/>
<rect x="164.97" y="51.20" width="2.84" height="15.40" fill="#4790c8"/>
<rect x="168.06" y="52.20" width="2.84" height="14.40" fill="#4790c8"/>
<rect x="171.14" y="53.30" width="2.84" height="13.30" fill="#4790c8"/>
<rect x="174.23" y="53.30" width="2.84" height="13.30" fill="#4790c8"/>
<rect x="177.32" y="54.10" width="2.84" height="12.50" fill="#4790c8"/>
<rect x="180.40" y="54.10" width="2.84" height="12.50" fill="#4790c8"/>
<rect x="183.49" y="54.10" width="2.84" height="12.50" fill="#4790c8"/>
<rect x="186.58" y="54.10" width="2.84" height="12.50" fill="#4790c8"/>
<rect x="189.66" y="54.10" width="2.84" height="12.50" fill="#4790c8"/>
<rect x="192.75" y="55.60" width="2.84" height="11.00" fill="#4790c8"/>
<rect x="195.83" y="56.20" width="2.84" height="10.40" fill="#4790c8"/>
<rect x="198.92" y="56.20" width="2.84" height="10.40" fill="#4790c8"/>
<rect x="202.01" y="56.20" width="2.84" height="10.40" fill="#4790c8"/>
<rect x="205.09" y="57.30" width="2.84" height="9.30" fill="#4790c8"/>
<rect x="208.18" y="57.30" width="2.84" height="9.30" fill="#4790c8"/>
<rect x="211.27" y="57.30" width="2.84" height="9.30" fill="#4790c8"/>
<rect x="214.35" y="58.80" width="2.84" height="7.80" fill="#4790c8"/>
<rect x="217.44" y="59.80" width="2.84" height="6.80" fill="#4790c8"/>
<rect x="220.52" y="59.80" width="2.84" height="6.80" fill="#4790c8"/>
<rect x="223.61" y="60.90" width="2.84" height="5.70" fill="#4790c8"/>
<rect x="226.70" y="60.90" width="2.84" height="5.70" fill="#4790c8"/>
<rect x="229.78" y="60.90" width="2.84" height="5.70" fill="#4790c8"/>
<rect x="232.87" y="60.90" width="2.84" height="5.70" fill="#4790c8"/>
<rect x="235.96" y="63.80" width="2.84" height="2.80" fill="#4790c8"/>
<rect x="239.04" y="63.80" width="2.84" height="2.80" fill="#4790c8"/>
<rect x="242.13" y="65.10" width="2.84" height="1.50" fill="#4790c8"/>
<rect x="245.21" y="66.20" width="2.84" height="0.40" fill="#4790c8"/>
<line x1="254.90" y1="34.00" x2="254.90" y2="142.00" stroke="#efefef" stroke-width="0.4"/>
<rect x="255.60" y="35.30" width="2.20" height="29.50" fill="#b5b5b5" rx="1"/>
<polygon points="255.9,137.0 257.5,137.0 256.7,138.0" fill="#666"/>
<rect x="44.70" y="78.30" width="33.30" height="3.80" fill="#e2e2e2"/>
<rect x="44.85" y="78.45" width="33.00" height="3.50" fill="none" stroke="#cfcfcf" stroke-width="0.35"/>
<rect x="78.00" y="78.30" width="33.90" height="3.80" fill="#fafafa"/>
<rect x="78.15" y="78.45" width="33.60" height="3.50" fill="none" stroke="#cfcfcf" stroke-width="0.35"/>
<rect x="111.90" y="78.30" width="27.10" height="3.80" fill="#fafafa"/>
<rect x="112.05" y="78.45" width="26.80" height="3.50" fill="none" stroke="#cfcfcf" stroke-width="0.35"/>
<line x1="43.00" y1="82.40" x2="255.00" y2="82.40" stroke="#e4e4e4" stroke-width="0.45"/>
<line x1="52.30" y1="90.50" x2="52.30" y2="110.00" stroke="#777" stroke-width="0.5"/>
<line x1="60.00" y1="90.50" x2="60.00" y2="110.00" stroke="#f2f2f2" stroke-width="0.35"/>
<line x1="88.80" y1="90.50" x2="88.80" y2="110.00" stroke="#f2f2f2" stroke-width="0.35"/>
<line x1="117.60" y1="90.50" x2="117.60" y2="110.00" stroke="#f2f2f2" stroke-width="0.35"/>
<line x1="146.40" y1="90.50" x2="146.40" y2="110.00" stroke="#f2f2f2" stroke-width="0.35"/>
<line x1="175.20" y1="90.50" x2="175.20" y2="110.00" stroke="#f2f2f2" stroke-width="0.35"/>
<line x1="204.00" y1="90.50" x2="204.00" y2="110.00" stroke="#f2f2f2" stroke-width="0.35"/>
<polyline points="59.00,103.40 60.15,103.50 61.70,103.63 63.56,103.79 65.63,103.97 67.81,104.14 70.00,104.30 72.27,104.46 74.70,104.64 77.25,104.82 79.85,104.98 82.45,105.11 85.00,105.20 87.50,105.22 90.00,105.20 92.50,105.14 95.00,105.07 97.50,105.02 100.00,105.00 102.51,105.02 105.04,105.05 107.58,105.09 110.09,105.15 112.57,105.22 115.00,105.30 117.47,105.44 120.01,105.64 122.51,105.86 124.88,106.03 127.01,106.09 128.80,106.00 130.16,105.75 131.14,105.40 131.89,104.95 132.53,104.40 133.19,103.75 134.00,103.00 134.96,102.07 135.95,100.94 136.96,99.71 137.99,98.49 139.00,97.38 140.00,96.50 140.99,95.80 141.97,95.20 142.95,94.71 143.92,94.36 144.87,94.18 145.80,94.20 146.67,94.48 147.49,95.00 148.29,95.69 149.12,96.48 150.01,97.27 151.00,98.00 152.11,98.73 153.29,99.54 154.54,100.36 155.84,101.13 157.17,101.76 158.50,102.20 159.85,102.40 161.24,102.41 162.66,102.29 164.09,102.11 165.54,101.93 167.00,101.80 168.49,101.69 170.04,101.54 171.59,101.38 173.13,101.26 174.61,101.22 176.00,101.30 177.28,101.53 178.48,101.87 179.62,102.30 180.74,102.76 181.86,103.21 183.00,103.60 184.07,103.96 185.04,104.33 186.00,104.69 187.07,105.01 188.37,105.29 190.00,105.50 192.05,105.63 194.46,105.69 197.09,105.69 199.81,105.67 202.49,105.63 205.00,105.60 207.49,105.56 210.11,105.49 212.69,105.41 215.06,105.32 217.05,105.25 218.50,105.20" fill="none" stroke="#ebe3a0" stroke-width="0.9"/>
<polyline points="59.00,104.20 60.15,104.26 61.70,104.35 63.56,104.45 65.63,104.56 67.81,104.68 70.00,104.80 72.27,104.93 74.70,105.09 77.25,105.25 79.85,105.40 82.45,105.52 85.00,105.60 87.50,105.62 90.00,105.59 92.50,105.54 95.00,105.47 97.50,105.42 100.00,105.40 102.51,105.40 105.04,105.42 107.58,105.44 110.09,105.48 112.57,105.53 115.00,105.60 117.47,105.72 120.01,105.91 122.51,106.11 124.88,106.27 127.01,106.35 128.80,106.30 130.16,106.13 131.14,105.89 131.89,105.57 132.53,105.15 133.19,104.63 134.00,104.00 134.96,103.17 135.95,102.13 136.96,100.98 137.99,99.84 139.00,98.81 140.00,98.00 140.99,97.37 141.97,96.83 142.95,96.41 143.92,96.11 144.87,95.97 145.80,96.00 146.67,96.27 147.49,96.77 148.29,97.42 149.12,98.14 150.01,98.86 151.00,99.50 152.11,100.10 153.29,100.75 154.54,101.39 155.84,101.98 157.17,102.47 158.50,102.80 159.85,102.95 161.24,102.94 162.66,102.83 164.09,102.66 165.54,102.50 167.00,102.40 168.49,102.32 170.04,102.20 171.59,102.09 173.13,102.02 174.61,102.01 176.00,102.10 177.28,102.32 178.48,102.64 179.62,103.03 180.74,103.44 181.86,103.85 183.00,104.20 184.07,104.52 185.04,104.86 186.00,105.17 187.07,105.47 188.37,105.71 190.00,105.90 192.05,106.02 194.46,106.07 197.09,106.08 199.81,106.06 202.49,106.03 205.00,106.00 207.49,105.96 210.11,105.89 212.69,105.81 215.06,105.72 217.05,105.65 218.50,105.60" fill="none" stroke="#aebfd8" stroke-width="0.7"/>
<line x1="46.00" y1="128.40" x2="250.00" y2="128.40" stroke="#e0e0e0" stroke-width="0.35"/>
<line x1="46.00" y1="133.60" x2="250.00" y2="133.60" stroke="#f0f0f0" stroke-width="0.3"/>
<line x1="46.00" y1="138.20" x2="250.00" y2="138.20" stroke="#f0f0f0" stroke-width="0.3"/>
<rect x="249.80" y="131.00" width="1.20" height="8.00" fill="#a8a8a8" rx="0.5"/></svg>
<div class="t" style="left:17.3px;top:4.60px;font-size:4.4px;font-weight:bold;letter-spacing:0.62px;color:#25526f;-webkit-text-stroke:0.18px #25526f">COVANCE</div>
<div class="t" style="left:52.60px;top:5.23px;font-size:3.95px;color:#a2a2a2;">Portfolio Reporting</div>
<div class="t" style="left:98.00px;top:6.93px;font-size:2.2px;color:#b8b8b8;">Search to identify one study quickly</div>
<div class="t" style="left:223.20px;top:6.74px;font-size:2.6px;color:#767676;letter-spacing:0.15px;">Lam Bay Lunchkin &#9662;</div>
<div class="t" style="left:19.00px;top:6.40px;font-size:1.3px;color:#dcd6da;letter-spacing:0.25px;">SOLUTIONS MADE REAL</div>
<div class="t" style="left:49.35px;top:14.08px;font-size:2.2px;color:#505050;transform:translateX(-50%);">Home</div>
<div class="t" style="left:62.50px;top:14.08px;font-size:2.2px;color:#505050;transform:translateX(-50%);">SPIs</div>
<div class="t" style="left:79.40px;top:14.08px;font-size:2.2px;color:#505050;transform:translateX(-50%);">KPI Scorecard</div>
<div class="t" style="left:101.80px;top:14.08px;font-size:2.2px;color:#494949;transform:translateX(-50%);">Diagnostic Views</div>
<div class="t" style="left:126.70px;top:14.08px;font-size:2.2px;color:#505050;transform:translateX(-50%);">Standard Metrics</div>
<div class="t" style="left:152.40px;top:14.08px;font-size:2.2px;color:#505050;transform:translateX(-50%);">Standard Metrics</div>
<div class="t" style="left:38.30px;top:13.26px;font-size:3.0px;color:#666666;">&#8249;</div>
<div class="t" style="left:10.00px;top:19.84px;font-size:2.55px;color:#868686;">KPI Scorecard</div>
<div class="t" style="left:10.00px;top:25.24px;font-size:2.55px;color:#868686;">Diagnostic Views</div>
<div class="t" style="left:14.00px;top:30.24px;font-size:2.55px;color:#868686;">Sites Ready</div>
<div class="t" style="left:14.00px;top:34.64px;font-size:2.55px;color:#868686;">Screening</div>
<div class="t" style="left:14.00px;top:39.14px;font-size:2.55px;color:#868686;">Enrollment</div>
<div class="t" style="left:14.00px;top:43.74px;font-size:2.55px;color:#868686;">Aging Queries</div>
<div class="t" style="left:14.00px;top:48.24px;font-size:2.55px;color:#868686;">Missing Pages</div>
<div class="t" style="left:14.00px;top:52.64px;font-size:2.55px;color:#868686;">Monitoring</div>
<div class="t" style="left:10.00px;top:57.34px;font-size:2.55px;color:#868686;">Standard Metrics</div>
<div class="t" style="left:14.00px;top:62.04px;font-size:2.55px;color:#868686;">All Other Metrics</div>
<div class="t" style="left:14.00px;top:66.74px;font-size:2.55px;color:#868686;">Milestones</div>
<div class="t" style="left:14.00px;top:71.24px;font-size:2.55px;color:#868686;">Cycle Times</div>
<div class="t" style="left:46.50px;top:20.68px;font-size:2.4px;color:#3a3a3a;font-weight:bold;">LR_TI</div>
<div class="t" style="left:54.40px;top:20.63px;font-size:2.2px;color:#747474;">&#8744; &#8216;R&#8217;</div>
<div class="t" style="left:46.00px;top:28.19px;font-size:2.15px;color:#494949;">SITE READY</div>
<div class="t" style="left:66.60px;top:28.19px;font-size:2.15px;color:#666666;">SCREENING</div>
<div class="t" style="left:85.40px;top:28.19px;font-size:2.15px;color:#666666;">ENROLLMENT</div>
<div class="t" style="left:107.20px;top:28.19px;font-size:2.15px;color:#666666;">AGING QUERIES</div>
<div class="t" style="left:131.00px;top:28.19px;font-size:2.15px;color:#666666;">MISSING PAGES</div>
<div class="t" style="left:155.00px;top:28.19px;font-size:2.15px;color:#666666;">MONITORING</div>
<div class="t" style="left:58.10px;top:36.66px;font-size:2.0px;color:#494949;transform:translateX(-50%);">Days Actual vs Plan</div>
<div class="t" style="left:81.20px;top:36.66px;font-size:2.0px;color:#494949;transform:translateX(-50%);">% Actual vs Plan</div>
<div class="t" style="left:103.05px;top:36.66px;font-size:2.0px;color:#494949;transform:translateX(-50%);">Actual vs Plan</div>
<div class="t" style="left:46.20px;top:44.30px;font-size:2.05px;color:#2b2b2b;font-weight:bold;">Sites Ready LTD Gap (Actual vs Plan)</div>
<div class="t" style="left:51.60px;top:47.97px;font-size:1.9px;color:#575757;transform:translateX(-100%);">80</div>
<div class="t" style="left:51.60px;top:53.17px;font-size:1.9px;color:#575757;transform:translateX(-100%);">60</div>
<div class="t" style="left:51.60px;top:58.37px;font-size:1.9px;color:#575757;transform:translateX(-100%);">40</div>
<div class="t" style="left:51.60px;top:63.37px;font-size:1.9px;color:#575757;transform:translateX(-100%);">20</div>
<div class="t" style="left:51.60px;top:68.47px;font-size:1.9px;color:#575757;transform:translateX(-100%);">0</div>
<div class="t" style="left:67.70px;top:70.87px;font-size:1.9px;color:#575757;transform:translateX(-50%);">EMEA</div>
<div class="t" style="left:95.50px;top:70.87px;font-size:1.9px;color:#575757;transform:translateX(-50%);">Americas</div>
<div class="t" style="left:126.80px;top:70.87px;font-size:1.9px;color:#575757;transform:translateX(-50%);">Asia Pacific</div>
<div class="t" style="left:152.10px;top:44.30px;font-size:2.05px;color:#2b2b2b;font-weight:bold;">Sites Ready LTD Gap (Actual vs Plan)</div>
<div class="t" style="left:157.80px;top:47.78px;font-size:1.8px;color:#575757;transform:translateX(-100%);">15</div>
<div class="t" style="left:157.80px;top:52.08px;font-size:1.8px;color:#575757;transform:translateX(-100%);">12</div>
<div class="t" style="left:157.80px;top:56.58px;font-size:1.8px;color:#575757;transform:translateX(-100%);">10</div>
<div class="t" style="left:157.80px;top:61.28px;font-size:1.8px;color:#575757;transform:translateX(-100%);">5</div>
<div class="t" style="left:157.80px;top:66.38px;font-size:1.8px;color:#575757;transform:translateX(-100%);">0</div>
<div class="t" style="left:159.40px;top:67.60px;font-size:1.8px;color:#555;transform:rotate(55deg);transform-origin:0 0;line-height:0.9">Site&nbsp;0<br>&nbsp;Unit</div>
<div class="t" style="left:165.57px;top:67.60px;font-size:1.8px;color:#555;transform:rotate(55deg);transform-origin:0 0;line-height:0.9">Site&nbsp;1<br>&nbsp;Unit</div>
<div class="t" style="left:171.74px;top:67.60px;font-size:1.8px;color:#555;transform:rotate(55deg);transform-origin:0 0;line-height:0.9">Site&nbsp;2<br>&nbsp;Unit</div>
<div class="t" style="left:177.92px;top:67.60px;font-size:1.8px;color:#555;transform:rotate(55deg);transform-origin:0 0;line-height:0.9">Site&nbsp;3<br>&nbsp;Unit</div>
<div class="t" style="left:184.09px;top:67.60px;font-size:1.8px;color:#555;transform:rotate(55deg);transform-origin:0 0;line-height:0.9">Site&nbsp;4<br>&nbsp;Unit</div>
<div class="t" style="left:190.26px;top:67.60px;font-size:1.8px;color:#555;transform:rotate(55deg);transform-origin:0 0;line-height:0.9">Site&nbsp;5<br>&nbsp;Unit</div>
<div class="t" style="left:196.43px;top:67.60px;font-size:1.8px;color:#555;transform:rotate(55deg);transform-origin:0 0;line-height:0.9">Site&nbsp;6<br>&nbsp;Unit</div>
<div class="t" style="left:202.61px;top:67.60px;font-size:1.8px;color:#555;transform:rotate(55deg);transform-origin:0 0;line-height:0.9">Site&nbsp;7<br>&nbsp;Unit</div>
<div class="t" style="left:208.78px;top:67.60px;font-size:1.8px;color:#555;transform:rotate(55deg);transform-origin:0 0;line-height:0.9">Site&nbsp;8<br>&nbsp;Unit</div>
<div class="t" style="left:214.95px;top:67.60px;font-size:1.8px;color:#555;transform:rotate(55deg);transform-origin:0 0;line-height:0.9">Site&nbsp;9<br>&nbsp;Unit</div>
<div class="t" style="left:221.12px;top:67.60px;font-size:1.8px;color:#555;transform:rotate(55deg);transform-origin:0 0;line-height:0.9">Site&nbsp;10<br>&nbsp;Unit</div>
<div class="t" style="left:227.30px;top:67.60px;font-size:1.8px;color:#555;transform:rotate(55deg);transform-origin:0 0;line-height:0.9">Site&nbsp;11<br>&nbsp;Unit</div>
<div class="t" style="left:233.47px;top:67.60px;font-size:1.8px;color:#555;transform:rotate(55deg);transform-origin:0 0;line-height:0.9">Site&nbsp;12<br>&nbsp;Unit</div>
<div class="t" style="left:239.64px;top:67.60px;font-size:1.8px;color:#555;transform:rotate(55deg);transform-origin:0 0;line-height:0.9">Site&nbsp;13<br>&nbsp;Unit</div>
<div class="t" style="left:245.81px;top:67.60px;font-size:1.8px;color:#555;transform:rotate(55deg);transform-origin:0 0;line-height:0.9">Site&nbsp;14<br>&nbsp;Unit</div>
<div class="t" style="left:61.35px;top:79.76px;font-size:2.0px;color:#494949;transform:translateX(-50%);">Actual vs Plan Cumulative</div>
<div class="t" style="left:94.95px;top:79.76px;font-size:2.0px;color:#494949;transform:translateX(-50%);">Actual vs Plan Incremental</div>
<div class="t" style="left:125.45px;top:79.76px;font-size:2.0px;color:#494949;transform:translateX(-50%);">Actual vs Plan Gap</div>
<div class="t" style="left:46.60px;top:87.50px;font-size:2.05px;color:#2b2b2b;font-weight:bold;">Sites Ready (Actual vs Plan)</div>
<div class="t" style="left:51.60px;top:90.58px;font-size:1.8px;color:#575757;transform:translateX(-100%);">100</div>
<div class="t" style="left:51.60px;top:92.58px;font-size:1.8px;color:#575757;transform:translateX(-100%);">80</div>
<div class="t" style="left:51.60px;top:98.18px;font-size:1.8px;color:#575757;transform:translateX(-100%);">40</div>
<div class="t" style="left:51.60px;top:102.98px;font-size:1.8px;color:#575757;transform:translateX(-100%);">20</div>
<div class="t" style="left:51.60px;top:109.08px;font-size:1.8px;color:#575757;transform:translateX(-100%);">0</div>
<div class="t" style="left:227.80px;top:92.40px;font-size:1.5px;color:#6b8fc0;">Sites Ready - Actual</div>
<div class="t" style="left:227.80px;top:94.50px;font-size:1.5px;color:#d8c860;">Sites Ready - Plan</div>
<div class="t" style="left:59.00px;top:111.00px;font-size:1.8px;color:#555;transform:rotate(55deg);transform-origin:0 0;">Jan&nbsp;2017</div>
<div class="t" style="left:73.50px;top:111.00px;font-size:1.8px;color:#555;transform:rotate(55deg);transform-origin:0 0;">Jan&nbsp;2017</div>
<div class="t" style="left:88.00px;top:111.00px;font-size:1.8px;color:#555;transform:rotate(55deg);transform-origin:0 0;">Jan&nbsp;2017</div>
<div class="t" style="left:102.50px;top:111.00px;font-size:1.8px;color:#555;transform:rotate(55deg);transform-origin:0 0;">Jan&nbsp;2017</div>
<div class="t" style="left:117.00px;top:111.00px;font-size:1.8px;color:#555;transform:rotate(55deg);transform-origin:0 0;">Jan&nbsp;2017</div>
<div class="t" style="left:131.50px;top:111.00px;font-size:1.8px;color:#555;transform:rotate(55deg);transform-origin:0 0;">Jan&nbsp;2017</div>
<div class="t" style="left:146.00px;top:111.00px;font-size:1.8px;color:#555;transform:rotate(55deg);transform-origin:0 0;">Jan&nbsp;2017</div>
<div class="t" style="left:160.50px;top:111.00px;font-size:1.8px;color:#555;transform:rotate(55deg);transform-origin:0 0;">Jan&nbsp;2017</div>
<div class="t" style="left:175.00px;top:111.00px;font-size:1.8px;color:#555;transform:rotate(55deg);transform-origin:0 0;">Jan&nbsp;2017</div>
<div class="t" style="left:189.50px;top:111.00px;font-size:1.8px;color:#555;transform:rotate(55deg);transform-origin:0 0;">Jan&nbsp;2017</div>
<div class="t" style="left:204.00px;top:111.00px;font-size:1.8px;color:#555;transform:rotate(55deg);transform-origin:0 0;">Jan&nbsp;2017</div>
<div class="t" style="left:218.50px;top:111.00px;font-size:1.8px;color:#555;transform:rotate(55deg);transform-origin:0 0;">Jan&nbsp;2017</div>
<div class="t" style="left:47.40px;top:125.68px;font-size:1.8px;color:#575757;">Country</div>
<div class="t" style="left:98.10px;top:125.68px;font-size:1.8px;color:#575757;">LTD Actual Sites</div>
<div class="t" style="left:148.00px;top:125.68px;font-size:1.8px;color:#575757;">LTD Baseline Sites</div>
<div class="t" style="left:199.70px;top:125.68px;font-size:1.8px;color:#575757;">% of Plan &#9650;</div>
<div class="t" style="left:47.40px;top:130.98px;font-size:1.8px;color:#747474;">Germany</div>
<div class="t" style="left:98.10px;top:130.98px;font-size:1.8px;color:#747474;">24</div>
<div class="t" style="left:148.00px;top:130.98px;font-size:1.8px;color:#747474;">21</div>
<div class="t" style="left:199.70px;top:130.98px;font-size:1.8px;color:#747474;">1</div>
<div class="t" style="left:47.40px;top:135.58px;font-size:1.8px;color:#747474;">Czech Republic</div>
<div class="t" style="left:98.10px;top:135.58px;font-size:1.8px;color:#747474;">11</div>
<div class="t" style="left:148.00px;top:135.58px;font-size:1.8px;color:#747474;">12</div>
<div class="t" style="left:199.70px;top:135.58px;font-size:1.8px;color:#747474;">92</div>
</div>
<div class="p" style="left:261px;top:138px;width:259px;height:142px;z-index:4">
<svg class="s" style="left:0;top:0" width="259" height="142" viewBox="0 0 259 142"><defs><linearGradient id="lg4" x1="0" x2="1" y1="0" y2="0"><stop offset="0" stop-color="#0b5f6b"/><stop offset="1" stop-color="#25aebf"/></linearGradient></defs>
<polygon points="2.5,2.4 9.7,2.4 6.8,10.9 2.5,10.9" fill="url(#lg4)"/>
<polygon points="9.3,10.9 11.7,2.6 15.3,10.9" fill="#e4e1e6"/>
<polygon points="10.2,10.9 11.8,5 14.2,10.9" fill="#f3f1f3"/>
<path d="M35.0,5.7 Q41,3.0 47.4,5.4" stroke="#d9587a" stroke-width="0.5" fill="none"/><path d="M43.2,7.6 L46.2,7.0" stroke="#a9dbe6" stroke-width="0.7" fill="none"/>
<circle cx="93.9" cy="6.6" r="1.05" stroke="#555" stroke-width="0.55" fill="none"/><line x1="94.7" y1="7.4" x2="95.7" y2="8.4" stroke="#555" stroke-width="0.65"/>
<circle cx="221.1" cy="6.1" r="0.95" fill="#555"/><path d="M219.6,8.8 Q219.7,7.1 221.1,7.1 Q222.5,7.1 222.6,8.8 Z" fill="#555"/>
<line x1="0.00" y1="2.20" x2="259.00" y2="2.20" stroke="#f0f0f0" stroke-width="0.4"/>
<defs><linearGradient id="hblg4" x1="0" x2="1" y1="0" y2="0"><stop offset="0" stop-color="#dedede" stop-opacity="0"/><stop offset="0.33" stop-color="#dedede" stop-opacity="0.15"/><stop offset="0.55" stop-color="#dedede" stop-opacity="1"/><stop offset="1" stop-color="#dcdcdc"/></linearGradient></defs>
<rect x="0.00" y="10.10" width="259.00" height="1.30" fill="url(#hblg4)"/>
<rect x="43.70" y="11.90" width="11.40" height="4.70" fill="#cdcdcd" rx="0.5"/>
<rect x="44.05" y="12.30" width="10.70" height="4.00" fill="#ebebeb" rx="0.3"/>
<rect x="56.30" y="11.90" width="11.40" height="4.70" fill="#cdcdcd" rx="0.5"/>
<rect x="56.65" y="12.30" width="10.70" height="4.00" fill="#ebebeb" rx="0.3"/>
<rect x="68.70" y="11.70" width="20.20" height="5.30" fill="#e3e3e3"/>
<rect x="69.10" y="12.10" width="19.40" height="5.30" fill="#fff"/>
<rect x="89.90" y="11.90" width="23.40" height="4.70" fill="#cdcdcd" rx="0.5"/>
<rect x="90.25" y="12.30" width="22.70" height="4.00" fill="#ebebeb" rx="0.3"/>
<rect x="114.50" y="11.90" width="24.40" height="4.70" fill="#cdcdcd" rx="0.5"/>
<rect x="114.85" y="12.30" width="23.70" height="4.00" fill="#ebebeb" rx="0.3"/>
<rect x="140.10" y="11.90" width="24.60" height="4.70" fill="#cdcdcd" rx="0.5"/>
<rect x="140.45" y="12.30" width="23.90" height="4.00" fill="#ebebeb" rx="0.3"/>
<line x1="43.00" y1="17.00" x2="43.00" y2="142.00" stroke="#ededed" stroke-width="0.5"/>
<line x1="43.00" y1="17.10" x2="259.00" y2="17.10" stroke="#ececec" stroke-width="0.4"/>
<g fill="#444"><rect x="46.5" y="19.8" width="2.6" height="0.55"/><rect x="46.5" y="20.9" width="2.6" height="0.55"/><rect x="46.5" y="22.0" width="2.6" height="0.55"/><polygon points="49.8,20.7 51.2,20.7 50.5,21.6"/></g>
<line x1="46.00" y1="23.00" x2="101.00" y2="23.00" stroke="#ededed" stroke-width="0.35"/>
<circle cx="55.3" cy="21.1" r="1.15" fill="none" stroke="#777" stroke-width="0.4"/><rect x="55.1" y="20.6" width="0.4" height="1.2" fill="#777"/><polygon points="57.4,20.7 58.8,20.7 58.1,21.6" fill="#777"/>
<polygon points="97.9,20.8 99.5,20.8 98.7,21.7" fill="#444"/>
<line x1="46.20" y1="36.20" x2="100.00" y2="36.20" stroke="#dedede" stroke-width="0.35"/>
<circle cx="95.3" cy="39.10" r="1.3" fill="#2f7a2c"/>
<line x1="46.20" y1="41.40" x2="100.00" y2="41.40" stroke="#f0f0f0" stroke-width="0.3"/>
<circle cx="95.3" cy="43.70" r="1.3" fill="#f0c419"/>
<line x1="46.20" y1="46.00" x2="100.00" y2="46.00" stroke="#f0f0f0" stroke-width="0.3"/>
<circle cx="95.3" cy="48.30" r="1.3" fill="#2f7a2c"/>
<line x1="46.20" y1="50.60" x2="100.00" y2="50.60" stroke="#f0f0f0" stroke-width="0.3"/>
<line x1="46.20" y1="70.60" x2="100.00" y2="70.60" stroke="#dedede" stroke-width="0.35"/>
<circle cx="95.3" cy="73.50" r="1.3" fill="#cc2b2b"/>
<line x1="46.20" y1="75.80" x2="100.00" y2="75.80" stroke="#f0f0f0" stroke-width="0.3"/>
<circle cx="95.3" cy="78.10" r="1.3" fill="#cc2b2b"/>
<line x1="46.20" y1="80.40" x2="100.00" y2="80.40" stroke="#f0f0f0" stroke-width="0.3"/>
<circle cx="95.3" cy="82.70" r="1.3" fill="#2f7a2c"/>
<line x1="46.20" y1="85.00" x2="100.00" y2="85.00" stroke="#f0f0f0" stroke-width="0.3"/>
<line x1="46.20" y1="105.40" x2="100.00" y2="105.40" stroke="#dedede" stroke-width="0.35"/>
<circle cx="95.3" cy="108.30" r="1.3" fill="#cc2b2b"/>
<line x1="46.20" y1="110.60" x2="100.00" y2="110.60" stroke="#f0f0f0" stroke-width="0.3"/>
<circle cx="95.3" cy="112.90" r="1.3" fill="#f0c419"/>
<line x1="46.20" y1="115.20" x2="100.00" y2="115.20" stroke="#f0f0f0" stroke-width="0.3"/>
<circle cx="95.3" cy="117.50" r="1.3" fill="#cc2b2b"/>
<line x1="46.20" y1="119.80" x2="100.00" y2="119.80" stroke="#f0f0f0" stroke-width="0.3"/>
<line x1="117.40" y1="33.00" x2="117.40" y2="51.40" stroke="#777" stroke-width="0.45"/>
<line x1="117.40" y1="33.80" x2="205.30" y2="33.80" stroke="#f0f0f0" stroke-width="0.3"/>
<line x1="117.40" y1="40.20" x2="205.30" y2="40.20" stroke="#f0f0f0" stroke-width="0.3"/>
<line x1="117.40" y1="45.50" x2="205.30" y2="45.50" stroke="#f0f0f0" stroke-width="0.3"/>
<line x1="117.40" y1="50.90" x2="205.30" y2="50.90" stroke="#f0f0f0" stroke-width="0.3"/>
<line x1="117.40" y1="37.10" x2="205.30" y2="37.10" stroke="#f7cfa8" stroke-width="0.55"/>
<line x1="117.40" y1="41.30" x2="205.30" y2="41.30" stroke="#f2a965" stroke-width="0.55"/>
<polyline points="119.50,45.00 119.94,45.54 120.56,46.35 121.33,47.08 122.20,47.40 123.24,47.07 124.44,46.31 125.68,45.50 126.80,45.00 127.71,45.08 128.49,45.49 129.33,45.81 130.40,45.60 131.83,44.29 133.49,42.26 135.19,40.53 136.70,40.10 137.97,41.87 139.12,45.09 140.18,48.32 141.20,50.10 142.10,49.72 142.88,48.05 143.72,46.06 144.80,44.70 146.29,44.21 148.06,44.08 149.79,44.16 151.20,44.30 152.11,44.48 152.72,44.78 153.25,45.16 153.90,45.60 154.69,46.30 155.53,47.20 156.45,47.88 157.50,47.90 158.72,46.80 160.09,44.93 161.51,43.06 162.90,42.00 164.27,42.18 165.65,43.10 167.01,44.15 168.30,44.70 169.51,44.44 170.66,43.74 171.78,43.05 172.90,42.80 174.01,43.28 175.10,44.19 176.21,45.11 177.40,45.60 178.67,45.36 179.99,44.69 181.37,44.02 182.80,43.80 184.37,44.43 186.06,45.57 187.69,46.58 189.10,46.80 190.21,45.61 191.12,43.52 191.94,41.54 192.80,40.70 193.71,41.66 194.61,43.75 195.50,45.99 196.40,47.40 197.30,47.56 198.20,47.06 199.10,46.39 200.00,46.10 200.98,46.37 202.02,46.92 202.95,47.50 203.60,47.90" fill="none" stroke="#6b98c8" stroke-width="0.55" stroke-linejoin="round"/>
<line x1="117.40" y1="68.30" x2="117.40" y2="86.80" stroke="#777" stroke-width="0.45"/>
<line x1="117.40" y1="69.10" x2="205.30" y2="69.10" stroke="#f0f0f0" stroke-width="0.3"/>
<line x1="117.40" y1="75.20" x2="205.30" y2="75.20" stroke="#f0f0f0" stroke-width="0.3"/>
<line x1="117.40" y1="80.50" x2="205.30" y2="80.50" stroke="#f0f0f0" stroke-width="0.3"/>
<line x1="117.40" y1="86.30" x2="205.30" y2="86.30" stroke="#f0f0f0" stroke-width="0.3"/>
<line x1="117.40" y1="71.70" x2="205.30" y2="71.70" stroke="#f7cfa8" stroke-width="0.55"/>
<line x1="117.40" y1="76.60" x2="205.30" y2="76.60" stroke="#f2a965" stroke-width="0.55"/>
<polyline points="119.00,82.30 119.66,80.95 120.60,78.95 121.64,77.17 122.60,76.50 123.42,77.57 124.19,79.77 124.97,82.14 125.80,83.70 126.69,84.08 127.62,83.84 128.57,83.41 129.50,83.20 130.41,83.41 131.31,83.79 132.20,84.10 133.10,84.10 133.92,83.68 134.68,82.97 135.55,82.16 136.70,81.40 138.31,80.58 140.24,79.66 142.20,78.93 143.90,78.70 145.24,79.17 146.37,80.13 147.42,81.28 148.50,82.30 149.65,83.27 150.81,84.31 151.94,85.14 153.00,85.50 153.96,85.11 154.86,84.18 155.72,83.19 156.60,82.60 157.48,82.63 158.34,83.00 159.24,83.44 160.20,83.70 161.26,83.71 162.39,83.60 163.55,83.42 164.70,83.20 165.85,82.85 167.03,82.38 168.16,82.00 169.20,81.90 170.05,82.47 170.77,83.49 171.53,84.26 172.50,84.10 173.83,82.37 175.38,79.59 176.95,76.79 178.30,75.00 179.33,74.56 180.18,74.91 180.99,75.68 181.90,76.50 182.96,77.61 184.09,79.08 185.25,80.34 186.40,80.80 187.54,79.99 188.70,78.34 189.83,76.56 190.90,75.40 191.89,74.94 192.83,74.83 193.73,75.12 194.60,75.90 195.44,77.72 196.24,80.38 197.02,82.74 197.80,83.70 198.58,82.40 199.36,79.63 200.13,76.72 200.90,75.00 201.75,75.06 202.64,76.11 203.44,77.43 204.00,78.30" fill="none" stroke="#6b98c8" stroke-width="0.55" stroke-linejoin="round"/>
<line x1="117.40" y1="102.70" x2="117.40" y2="121.80" stroke="#777" stroke-width="0.45"/>
<line x1="117.40" y1="103.50" x2="205.30" y2="103.50" stroke="#f0f0f0" stroke-width="0.3"/>
<line x1="117.40" y1="110.20" x2="205.30" y2="110.20" stroke="#f0f0f0" stroke-width="0.3"/>
<line x1="117.40" y1="115.30" x2="205.30" y2="115.30" stroke="#f0f0f0" stroke-width="0.3"/>
<line x1="117.40" y1="121.30" x2="205.30" y2="121.30" stroke="#f0f0f0" stroke-width="0.3"/>
<line x1="117.40" y1="106.50" x2="205.30" y2="106.50" stroke="#f7cfa8" stroke-width="0.55"/>
<line x1="117.40" y1="111.20" x2="205.30" y2="111.20" stroke="#f2a965" stroke-width="0.55"/>
<polyline points="119.50,119.60 119.94,119.62 120.56,119.67 121.33,119.56 122.20,119.10 123.24,117.92 124.44,116.23 125.68,114.69 126.80,114.00 127.70,114.79 128.47,116.55 129.31,118.21 130.40,118.70 131.88,117.23 133.61,114.52 135.41,111.84 137.10,110.40 138.69,110.84 140.24,112.39 141.71,114.22 143.00,115.50 144.00,116.00 144.77,116.16 145.56,116.17 146.60,116.20 147.98,116.27 149.58,116.30 151.28,116.30 153.00,116.30 154.84,116.40 156.79,116.55 158.66,116.55 160.20,116.20 161.29,115.07 162.06,113.39 162.72,111.95 163.50,111.50 164.44,112.73 165.43,115.06 166.43,117.42 167.40,118.70 168.34,118.27 169.27,116.82 170.19,115.29 171.10,114.60 172.01,115.36 172.91,116.96 173.80,118.50 174.70,119.10 175.58,118.17 176.44,116.29 177.34,114.37 178.30,113.30 179.38,113.46 180.55,114.32 181.72,115.44 182.80,116.40 183.78,117.27 184.69,118.23 185.56,118.94 186.40,119.10 187.20,118.27 187.95,116.74 188.70,115.26 189.50,114.60 190.31,115.28 191.12,116.79 192.02,118.33 193.10,119.10 194.47,118.61 196.04,117.38 197.65,116.11 199.10,115.50 200.44,115.90 201.73,116.87 202.83,117.97 203.60,118.70" fill="none" stroke="#6b98c8" stroke-width="0.55" stroke-linejoin="round"/>
<rect x="216.00" y="28.95" width="36.00" height="2.70" fill="#dedede" rx="1.35"/>
<rect x="216.00" y="92.95" width="36.00" height="2.70" fill="#dedede" rx="1.35"/>
<rect x="216.00" y="130.95" width="36.00" height="2.70" fill="#dedede" rx="1.35"/>
<line x1="256.90" y1="24.00" x2="256.90" y2="140.00" stroke="#eeeeee" stroke-width="0.5"/>
<rect x="255.70" y="26.00" width="2.30" height="49.00" fill="#c4c4c4" rx="1"/>
<polygon points="256.0,137.6 257.6,137.6 256.8,138.6" fill="#777"/></svg>
<div class="t" style="left:17.3px;top:4.60px;font-size:4.4px;font-weight:bold;letter-spacing:0.62px;color:#25526f;-webkit-text-stroke:0.18px #25526f">COVANCE</div>
<div class="t" style="left:52.60px;top:5.23px;font-size:3.95px;color:#a2a2a2;">Portfolio Reporting</div>
<div class="t" style="left:98.00px;top:6.93px;font-size:2.2px;color:#b8b8b8;">Search to identify one study quickly</div>
<div class="t" style="left:223.20px;top:6.74px;font-size:2.6px;color:#767676;letter-spacing:0.15px;">Iqbal Fus&nbsp;&nbsp;<span style="color:#555">SHAFIEY</span> &#9662;</div>
<div class="t" style="left:19.00px;top:6.40px;font-size:1.3px;color:#dcd6da;letter-spacing:0.25px;">SOLUTIONS MADE REAL</div>
<div class="t" style="left:49.40px;top:14.08px;font-size:2.2px;color:#505050;transform:translateX(-50%);">Home</div>
<div class="t" style="left:62.00px;top:14.08px;font-size:2.2px;color:#505050;transform:translateX(-50%);">SPIs</div>
<div class="t" style="left:78.80px;top:14.08px;font-size:2.2px;color:#494949;transform:translateX(-50%);">KPI Scorecard</div>
<div class="t" style="left:101.60px;top:14.08px;font-size:2.2px;color:#505050;transform:translateX(-50%);">Diagnostic Views</div>
<div class="t" style="left:126.70px;top:14.08px;font-size:2.2px;color:#505050;transform:translateX(-50%);">Standard Metrics</div>
<div class="t" style="left:152.40px;top:14.08px;font-size:2.2px;color:#505050;transform:translateX(-50%);">Standard Metrics</div>
<div class="t" style="left:38.30px;top:13.26px;font-size:3.0px;color:#666666;">&#8249;</div>
<div class="t" style="left:10.00px;top:19.84px;font-size:2.55px;color:#41a3b5;">KPI Scorecard</div>
<div class="t" style="left:10.00px;top:25.24px;font-size:2.55px;color:#868686;">Diagnostic Views</div>
<div class="t" style="left:14.00px;top:30.24px;font-size:2.55px;color:#868686;">Sites Ready</div>
<div class="t" style="left:14.00px;top:34.64px;font-size:2.55px;color:#868686;">Screening</div>
<div class="t" style="left:14.00px;top:39.14px;font-size:2.55px;color:#868686;">Enrollment</div>
<div class="t" style="left:14.00px;top:43.74px;font-size:2.55px;color:#868686;">Aging Queries</div>
<div class="t" style="left:14.00px;top:48.24px;font-size:2.55px;color:#868686;">Missing Pages</div>
<div class="t" style="left:14.00px;top:52.64px;font-size:2.55px;color:#868686;">Monitoring</div>
<div class="t" style="left:10.00px;top:57.34px;font-size:2.55px;color:#868686;">Standard Metrics</div>
<div class="t" style="left:14.00px;top:62.04px;font-size:2.55px;color:#868686;">All Other Metrics</div>
<div class="t" style="left:14.00px;top:66.74px;font-size:2.55px;color:#868686;">Milestones</div>
<div class="t" style="left:14.00px;top:71.24px;font-size:2.55px;color:#868686;">Cycle Times</div>
<div class="t" style="left:46.20px;top:29.84px;font-size:2.1px;color:#3a3a3a;font-weight:bold;">Sites Ready</div>
<div class="t" style="left:47.40px;top:33.66px;font-size:1.95px;color:#575757;">Regi...</div>
<div class="t" style="left:58.30px;top:33.66px;font-size:1.95px;color:#575757;">Pla...</div>
<div class="t" style="left:69.30px;top:33.66px;font-size:1.95px;color:#575757;">Act...</div>
<div class="t" style="left:80.20px;top:33.66px;font-size:1.95px;color:#575757;">Ev...</div>
<div class="t" style="left:91.10px;top:33.66px;font-size:1.95px;color:#575757;">Sta...</div>
<div class="t" style="left:47.40px;top:38.66px;font-size:1.95px;color:#6e6e6e;">Asia Pac...</div>
<div class="t" style="left:58.30px;top:38.66px;font-size:1.95px;color:#6e6e6e;">68</div>
<div class="t" style="left:69.30px;top:38.66px;font-size:1.95px;color:#6e6e6e;">79</div>
<div class="t" style="left:80.20px;top:38.66px;font-size:1.95px;color:#6e6e6e;">10</div>
<div class="t" style="left:47.40px;top:43.26px;font-size:1.95px;color:#6e6e6e;">EMEA</div>
<div class="t" style="left:58.30px;top:43.26px;font-size:1.95px;color:#6e6e6e;">25</div>
<div class="t" style="left:69.30px;top:43.26px;font-size:1.95px;color:#6e6e6e;">36</div>
<div class="t" style="left:80.20px;top:43.26px;font-size:1.95px;color:#6e6e6e;">47</div>
<div class="t" style="left:47.40px;top:47.86px;font-size:1.95px;color:#6e6e6e;">Americas</div>
<div class="t" style="left:58.30px;top:47.86px;font-size:1.95px;color:#6e6e6e;">62</div>
<div class="t" style="left:69.30px;top:47.86px;font-size:1.95px;color:#6e6e6e;">73</div>
<div class="t" style="left:80.20px;top:47.86px;font-size:1.95px;color:#6e6e6e;">84</div>
<div class="t" style="left:46.20px;top:64.24px;font-size:2.1px;color:#3a3a3a;font-weight:bold;">Subjects Screened</div>
<div class="t" style="left:47.40px;top:68.06px;font-size:1.95px;color:#575757;">Regi...</div>
<div class="t" style="left:58.30px;top:68.06px;font-size:1.95px;color:#575757;">Pla...</div>
<div class="t" style="left:69.30px;top:68.06px;font-size:1.95px;color:#575757;">Act...</div>
<div class="t" style="left:80.20px;top:68.06px;font-size:1.95px;color:#575757;">Ev...</div>
<div class="t" style="left:91.10px;top:68.06px;font-size:1.95px;color:#575757;">Sta...</div>
<div class="t" style="left:47.40px;top:73.06px;font-size:1.95px;color:#6e6e6e;">Asia Pac...</div>
<div class="t" style="left:58.30px;top:73.06px;font-size:1.95px;color:#6e6e6e;">68</div>
<div class="t" style="left:69.30px;top:73.06px;font-size:1.95px;color:#6e6e6e;">79</div>
<div class="t" style="left:80.20px;top:73.06px;font-size:1.95px;color:#6e6e6e;">10</div>
<div class="t" style="left:47.40px;top:77.66px;font-size:1.95px;color:#6e6e6e;">EMEA</div>
<div class="t" style="left:58.30px;top:77.66px;font-size:1.95px;color:#6e6e6e;">25</div>
<div class="t" style="left:69.30px;top:77.66px;font-size:1.95px;color:#6e6e6e;">36</div>
<div class="t" style="left:80.20px;top:77.66px;font-size:1.95px;color:#6e6e6e;">47</div>
<div class="t" style="left:47.40px;top:82.26px;font-size:1.95px;color:#6e6e6e;">Americas</div>
<div class="t" style="left:58.30px;top:82.26px;font-size:1.95px;color:#6e6e6e;">62</div>
<div class="t" style="left:69.30px;top:82.26px;font-size:1.95px;color:#6e6e6e;">73</div>
<div class="t" style="left:80.20px;top:82.26px;font-size:1.95px;color:#6e6e6e;">84</div>
<div class="t" style="left:46.20px;top:99.05px;font-size:2.1px;color:#3a3a3a;font-weight:bold;">Subjects Enrolled</div>
<div class="t" style="left:47.40px;top:102.86px;font-size:1.95px;color:#575757;">Regi...</div>
<div class="t" style="left:58.30px;top:102.86px;font-size:1.95px;color:#575757;">Pla...</div>
<div class="t" style="left:69.30px;top:102.86px;font-size:1.95px;color:#575757;">Act...</div>
<div class="t" style="left:80.20px;top:102.86px;font-size:1.95px;color:#575757;">Ev...</div>
<div class="t" style="left:91.10px;top:102.86px;font-size:1.95px;color:#575757;">Sta...</div>
<div class="t" style="left:47.40px;top:107.86px;font-size:1.95px;color:#6e6e6e;">Asia Pac...</div>
<div class="t" style="left:58.30px;top:107.86px;font-size:1.95px;color:#6e6e6e;">68</div>
<div class="t" style="left:69.30px;top:107.86px;font-size:1.95px;color:#6e6e6e;">79</div>
<div class="t" style="left:80.20px;top:107.86px;font-size:1.95px;color:#6e6e6e;">10</div>
<div class="t" style="left:47.40px;top:112.46px;font-size:1.95px;color:#6e6e6e;">EMEA</div>
<div class="t" style="left:58.30px;top:112.46px;font-size:1.95px;color:#6e6e6e;">25</div>
<div class="t" style="left:69.30px;top:112.46px;font-size:1.95px;color:#6e6e6e;">36</div>
<div class="t" style="left:80.20px;top:112.46px;font-size:1.95px;color:#6e6e6e;">47</div>
<div class="t" style="left:47.40px;top:117.06px;font-size:1.95px;color:#6e6e6e;">Americas</div>
<div class="t" style="left:58.30px;top:117.06px;font-size:1.95px;color:#6e6e6e;">62</div>
<div class="t" style="left:69.30px;top:117.06px;font-size:1.95px;color:#6e6e6e;">73</div>
<div class="t" style="left:80.20px;top:117.06px;font-size:1.95px;color:#6e6e6e;">84</div>
<div class="t" style="left:46.20px;top:133.76px;font-size:2.0px;color:#3a3a3a;font-weight:bold;">Aging Queries</div>
<div class="t" style="left:47.40px;top:138.18px;font-size:1.8px;color:#575757;">Regi...</div>
<div class="t" style="left:58.30px;top:138.18px;font-size:1.8px;color:#575757;">Mo...</div>
<div class="t" style="left:69.30px;top:138.18px;font-size:1.8px;color:#575757;">Quit...</div>
<div class="t" style="left:80.20px;top:138.18px;font-size:1.8px;color:#575757;">Pre...</div>
<div class="t" style="left:91.10px;top:138.18px;font-size:1.8px;color:#575757;">Sta...</div>
<div class="t" style="left:109.90px;top:29.59px;font-size:2.15px;color:#2b2b2b;font-weight:bold;">Sites Ready % to Plan</div>
<div class="t" style="left:116.60px;top:33.45px;font-size:2.1px;color:#494949;transform:translateX(-100%);">150</div>
<div class="t" style="left:116.60px;top:39.85px;font-size:2.1px;color:#494949;transform:translateX(-100%);">100</div>
<div class="t" style="left:116.60px;top:45.15px;font-size:2.1px;color:#494949;transform:translateX(-100%);">50</div>
<div class="t" style="left:116.60px;top:50.55px;font-size:2.1px;color:#494949;transform:translateX(-100%);">0</div>
<div class="t" style="left:118.20px;top:52.50px;font-size:1.75px;color:#5a5a5a;transform:rotate(55deg);transform-origin:0 0;">Jan&nbsp;17</div>
<div class="t" style="left:121.10px;top:52.50px;font-size:1.75px;color:#5a5a5a;transform:rotate(55deg);transform-origin:0 0;">Jan&nbsp;17</div>
<div class="t" style="left:124.00px;top:52.50px;font-size:1.75px;color:#5a5a5a;transform:rotate(55deg);transform-origin:0 0;">Jan&nbsp;17</div>
<div class="t" style="left:126.90px;top:52.50px;font-size:1.75px;color:#5a5a5a;transform:rotate(55deg);transform-origin:0 0;">Jan&nbsp;17</div>
<div class="t" style="left:129.80px;top:52.50px;font-size:1.75px;color:#5a5a5a;transform:rotate(55deg);transform-origin:0 0;">Jan&nbsp;17</div>
<div class="t" style="left:132.70px;top:52.50px;font-size:1.75px;color:#5a5a5a;transform:rotate(55deg);transform-origin:0 0;">Jan&nbsp;17</div>
<div class="t" style="left:135.60px;top:52.50px;font-size:1.75px;color:#5a5a5a;transform:rotate(55deg);transform-origin:0 0;">Jan&nbsp;17</div>
<div class="t" style="left:138.50px;top:52.50px;font-size:1.75px;color:#5a5a5a;transform:rotate(55deg);transform-origin:0 0;">Jan&nbsp;17</div>
<div class="t" style="left:141.40px;top:52.50px;font-size:1.75px;color:#5a5a5a;transform:rotate(55deg);transform-origin:0 0;">Jan&nbsp;17</div>
<div class="t" style="left:144.30px;top:52.50px;font-size:1.75px;color:#5a5a5a;transform:rotate(55deg);transform-origin:0 0;">Jan&nbsp;17</div>
<div class="t" style="left:147.20px;top:52.50px;font-size:1.75px;color:#5a5a5a;transform:rotate(55deg);transform-origin:0 0;">Jan&nbsp;17</div>
<div class="t" style="left:150.10px;top:52.50px;font-size:1.75px;color:#5a5a5a;transform:rotate(55deg);transform-origin:0 0;">Jan&nbsp;17</div>
<div class="t" style="left:153.00px;top:52.50px;font-size:1.75px;color:#5a5a5a;transform:rotate(55deg);transform-origin:0 0;">Jan&nbsp;17</div>
<div class="t" style="left:155.90px;top:52.50px;font-size:1.75px;color:#5a5a5a;transform:rotate(55deg);transform-origin:0 0;">Jan&nbsp;17</div>
<div class="t" style="left:158.80px;top:52.50px;font-size:1.75px;color:#5a5a5a;transform:rotate(55deg);transform-origin:0 0;">Jan&nbsp;17</div>
<div class="t" style="left:161.70px;top:52.50px;font-size:1.75px;color:#5a5a5a;transform:rotate(55deg);transform-origin:0 0;">Jan&nbsp;17</div>
<div class="t" style="left:164.60px;top:52.50px;font-size:1.75px;color:#5a5a5a;transform:rotate(55deg);transform-origin:0 0;">Jan&nbsp;17</div>
<div class="t" style="left:167.50px;top:52.50px;font-size:1.75px;color:#5a5a5a;transform:rotate(55deg);transform-origin:0 0;">Jan&nbsp;17</div>
<div class="t" style="left:170.40px;top:52.50px;font-size:1.75px;color:#5a5a5a;transform:rotate(55deg);transform-origin:0 0;">Jan&nbsp;17</div>
<div class="t" style="left:173.30px;top:52.50px;font-size:1.75px;color:#5a5a5a;transform:rotate(55deg);transform-origin:0 0;">Jan&nbsp;17</div>
<div class="t" style="left:176.20px;top:52.50px;font-size:1.75px;color:#5a5a5a;transform:rotate(55deg);transform-origin:0 0;">Jan&nbsp;17</div>
<div class="t" style="left:179.10px;top:52.50px;font-size:1.75px;color:#5a5a5a;transform:rotate(55deg);transform-origin:0 0;">Jan&nbsp;17</div>
<div class="t" style="left:182.00px;top:52.50px;font-size:1.75px;color:#5a5a5a;transform:rotate(55deg);transform-origin:0 0;">Jan&nbsp;17</div>
<div class="t" style="left:184.90px;top:52.50px;font-size:1.75px;color:#5a5a5a;transform:rotate(55deg);transform-origin:0 0;">Jan&nbsp;17</div>
<div class="t" style="left:187.80px;top:52.50px;font-size:1.75px;color:#5a5a5a;transform:rotate(55deg);transform-origin:0 0;">Jan&nbsp;17</div>
<div class="t" style="left:190.70px;top:52.50px;font-size:1.75px;color:#5a5a5a;transform:rotate(55deg);transform-origin:0 0;">Jan&nbsp;17</div>
<div class="t" style="left:193.60px;top:52.50px;font-size:1.75px;color:#5a5a5a;transform:rotate(55deg);transform-origin:0 0;">Jan&nbsp;17</div>
<div class="t" style="left:196.50px;top:52.50px;font-size:1.75px;color:#5a5a5a;transform:rotate(55deg);transform-origin:0 0;">Jan&nbsp;17</div>
<div class="t" style="left:199.40px;top:52.50px;font-size:1.75px;color:#5a5a5a;transform:rotate(55deg);transform-origin:0 0;">Jan&nbsp;17</div>
<div class="t" style="left:202.30px;top:52.50px;font-size:1.75px;color:#5a5a5a;transform:rotate(55deg);transform-origin:0 0;">Jan&nbsp;17</div>
<div class="t" style="left:205.20px;top:52.50px;font-size:1.75px;color:#5a5a5a;transform:rotate(55deg);transform-origin:0 0;">Jan&nbsp;17</div>
<div class="t" style="left:109.90px;top:64.39px;font-size:2.15px;color:#2b2b2b;font-weight:bold;">Subjects Screened % to Plan</div>
<div class="t" style="left:116.60px;top:68.74px;font-size:2.1px;color:#494949;transform:translateX(-100%);">150</div>
<div class="t" style="left:116.60px;top:74.84px;font-size:2.1px;color:#494949;transform:translateX(-100%);">100</div>
<div class="t" style="left:116.60px;top:80.14px;font-size:2.1px;color:#494949;transform:translateX(-100%);">50</div>
<div class="t" style="left:116.60px;top:85.94px;font-size:2.1px;color:#494949;transform:translateX(-100%);">0</div>
<div class="t" style="left:118.20px;top:87.90px;font-size:1.75px;color:#5a5a5a;transform:rotate(55deg);transform-origin:0 0;">Jan&nbsp;17</div>
<div class="t" style="left:121.10px;top:87.90px;font-size:1.75px;color:#5a5a5a;transform:rotate(55deg);transform-origin:0 0;">Jan&nbsp;17</div>
<div class="t" style="left:124.00px;top:87.90px;font-size:1.75px;color:#5a5a5a;transform:rotate(55deg);transform-origin:0 0;">Jan&nbsp;17</div>
<div class="t" style="left:126.90px;top:87.90px;font-size:1.75px;color:#5a5a5a;transform:rotate(55deg);transform-origin:0 0;">Jan&nbsp;17</div>
<div class="t" style="left:129.80px;top:87.90px;font-size:1.75px;color:#5a5a5a;transform:rotate(55deg);transform-origin:0 0;">Jan&nbsp;17</div>
<div class="t" style="left:132.70px;top:87.90px;font-size:1.75px;color:#5a5a5a;transform:rotate(55deg);transform-origin:0 0;">Jan&nbsp;17</div>
<div class="t" style="left:135.60px;top:87.90px;font-size:1.75px;color:#5a5a5a;transform:rotate(55deg);transform-origin:0 0;">Jan&nbsp;17</div>
<div class="t" style="left:138.50px;top:87.90px;font-size:1.75px;color:#5a5a5a;transform:rotate(55deg);transform-origin:0 0;">Jan&nbsp;17</div>
<div class="t" style="left:141.40px;top:87.90px;font-size:1.75px;color:#5a5a5a;transform:rotate(55deg);transform-origin:0 0;">Jan&nbsp;17</div>
<div class="t" style="left:144.30px;top:87.90px;font-size:1.75px;color:#5a5a5a;transform:rotate(55deg);transform-origin:0 0;">Jan&nbsp;17</div>
<div class="t" style="left:147.20px;top:87.90px;font-size:1.75px;color:#5a5a5a;transform:rotate(55deg);transform-origin:0 0;">Jan&nbsp;17</div>
<div class="t" style="left:150.10px;top:87.90px;font-size:1.75px;color:#5a5a5a;transform:rotate(55deg);transform-origin:0 0;">Jan&nbsp;17</div>
<div class="t" style="left:153.00px;top:87.90px;font-size:1.75px;color:#5a5a5a;transform:rotate(55deg);transform-origin:0 0;">Jan&nbsp;17</div>
<div class="t" style="left:155.90px;top:87.90px;font-size:1.75px;color:#5a5a5a;transform:rotate(55deg);transform-origin:0 0;">Jan&nbsp;17</div>
<div class="t" style="left:158.80px;top:87.90px;font-size:1.75px;color:#5a5a5a;transform:rotate(55deg);transform-origin:0 0;">Jan&nbsp;17</div>
<div class="t" style="left:161.70px;top:87.90px;font-size:1.75px;color:#5a5a5a;transform:rotate(55deg);transform-origin:0 0;">Jan&nbsp;17</div>
<div class="t" style="left:164.60px;top:87.90px;font-size:1.75px;color:#5a5a5a;transform:rotate(55deg);transform-origin:0 0;">Jan&nbsp;17</div>
<div class="t" style="left:167.50px;top:87.90px;font-size:1.75px;color:#5a5a5a;transform:rotate(55deg);transform-origin:0 0;">Jan&nbsp;17</div>
<div class="t" style="left:170.40px;top:87.90px;font-size:1.75px;color:#5a5a5a;transform:rotate(55deg);transform-origin:0 0;">Jan&nbsp;17</div>
<div class="t" style="left:173.30px;top:87.90px;font-size:1.75px;color:#5a5a5a;transform:rotate(55deg);transform-origin:0 0;">Jan&nbsp;17</div>
<div class="t" style="left:176.20px;top:87.90px;font-size:1.75px;color:#5a5a5a;transform:rotate(55deg);transform-origin:0 0;">Jan&nbsp;17</div>
<div class="t" style="left:179.10px;top:87.90px;font-size:1.75px;color:#5a5a5a;transform:rotate(55deg);transform-origin:0 0;">Jan&nbsp;17</div>
<div class="t" style="left:182.00px;top:87.90px;font-size:1.75px;color:#5a5a5a;transform:rotate(55deg);transform-origin:0 0;">Jan&nbsp;17</div>
<div class="t" style="left:184.90px;top:87.90px;font-size:1.75px;color:#5a5a5a;transform:rotate(55deg);transform-origin:0 0;">Jan&nbsp;17</div>
<div class="t" style="left:187.80px;top:87.90px;font-size:1.75px;color:#5a5a5a;transform:rotate(55deg);transform-origin:0 0;">Jan&nbsp;17</div>
<div class="t" style="left:190.70px;top:87.90px;font-size:1.75px;color:#5a5a5a;transform:rotate(55deg);transform-origin:0 0;">Jan&nbsp;17</div>
<div class="t" style="left:193.60px;top:87.90px;font-size:1.75px;color:#5a5a5a;transform:rotate(55deg);transform-origin:0 0;">Jan&nbsp;17</div>
<div class="t" style="left:196.50px;top:87.90px;font-size:1.75px;color:#5a5a5a;transform:rotate(55deg);transform-origin:0 0;">Jan&nbsp;17</div>
<div class="t" style="left:199.40px;top:87.90px;font-size:1.75px;color:#5a5a5a;transform:rotate(55deg);transform-origin:0 0;">Jan&nbsp;17</div>
<div class="t" style="left:202.30px;top:87.90px;font-size:1.75px;color:#5a5a5a;transform:rotate(55deg);transform-origin:0 0;">Jan&nbsp;17</div>
<div class="t" style="left:205.20px;top:87.90px;font-size:1.75px;color:#5a5a5a;transform:rotate(55deg);transform-origin:0 0;">Jan&nbsp;17</div>
<div class="t" style="left:109.90px;top:99.39px;font-size:2.15px;color:#2b2b2b;font-weight:bold;">Subjects Enrolled % to Plan</div>
<div class="t" style="left:116.60px;top:103.14px;font-size:2.1px;color:#494949;transform:translateX(-100%);">150</div>
<div class="t" style="left:116.60px;top:109.84px;font-size:2.1px;color:#494949;transform:translateX(-100%);">100</div>
<div class="t" style="left:116.60px;top:114.94px;font-size:2.1px;color:#494949;transform:translateX(-100%);">50</div>
<div class="t" style="left:116.60px;top:120.94px;font-size:2.1px;color:#494949;transform:translateX(-100%);">0</div>
<div class="t" style="left:118.20px;top:122.90px;font-size:1.75px;color:#5a5a5a;transform:rotate(55deg);transform-origin:0 0;">Jan&nbsp;17</div>
<div class="t" style="left:121.10px;top:122.90px;font-size:1.75px;color:#5a5a5a;transform:rotate(55deg);transform-origin:0 0;">Jan&nbsp;17</div>
<div class="t" style="left:124.00px;top:122.90px;font-size:1.75px;color:#5a5a5a;transform:rotate(55deg);transform-origin:0 0;">Jan&nbsp;17</div>
<div class="t" style="left:126.90px;top:122.90px;font-size:1.75px;color:#5a5a5a;transform:rotate(55deg);transform-origin:0 0;">Jan&nbsp;17</div>
<div class="t" style="left:129.80px;top:122.90px;font-size:1.75px;color:#5a5a5a;transform:rotate(55deg);transform-origin:0 0;">Jan&nbsp;17</div>
<div class="t" style="left:132.70px;top:122.90px;font-size:1.75px;color:#5a5a5a;transform:rotate(55deg);transform-origin:0 0;">Jan&nbsp;17</div>
<div class="t" style="left:135.60px;top:122.90px;font-size:1.75px;color:#5a5a5a;transform:rotate(55deg);transform-origin:0 0;">Jan&nbsp;17</div>
<div class="t" style="left:138.50px;top:122.90px;font-size:1.75px;color:#5a5a5a;transform:rotate(55deg);transform-origin:0 0;">Jan&nbsp;17</div>
<div class="t" style="left:141.40px;top:122.90px;font-size:1.75px;color:#5a5a5a;transform:rotate(55deg);transform-origin:0 0;">Jan&nbsp;17</div>
<div class="t" style="left:144.30px;top:122.90px;font-size:1.75px;color:#5a5a5a;transform:rotate(55deg);transform-origin:0 0;">Jan&nbsp;17</div>
<div class="t" style="left:147.20px;top:122.90px;font-size:1.75px;color:#5a5a5a;transform:rotate(55deg);transform-origin:0 0;">Jan&nbsp;17</div>
<div class="t" style="left:150.10px;top:122.90px;font-size:1.75px;color:#5a5a5a;transform:rotate(55deg);transform-origin:0 0;">Jan&nbsp;17</div>
<div class="t" style="left:153.00px;top:122.90px;font-size:1.75px;color:#5a5a5a;transform:rotate(55deg);transform-origin:0 0;">Jan&nbsp;17</div>
<div class="t" style="left:155.90px;top:122.90px;font-size:1.75px;color:#5a5a5a;transform:rotate(55deg);transform-origin:0 0;">Jan&nbsp;17</div>
<div class="t" style="left:158.80px;top:122.90px;font-size:1.75px;color:#5a5a5a;transform:rotate(55deg);transform-origin:0 0;">Jan&nbsp;17</div>
<div class="t" style="left:161.70px;top:122.90px;font-size:1.75px;color:#5a5a5a;transform:rotate(55deg);transform-origin:0 0;">Jan&nbsp;17</div>
<div class="t" style="left:164.60px;top:122.90px;font-size:1.75px;color:#5a5a5a;transform:rotate(55deg);transform-origin:0 0;">Jan&nbsp;17</div>
<div class="t" style="left:167.50px;top:122.90px;font-size:1.75px;color:#5a5a5a;transform:rotate(55deg);transform-origin:0 0;">Jan&nbsp;17</div>
<div class="t" style="left:170.40px;top:122.90px;font-size:1.75px;color:#5a5a5a;transform:rotate(55deg);transform-origin:0 0;">Jan&nbsp;17</div>
<div class="t" style="left:173.30px;top:122.90px;font-size:1.75px;color:#5a5a5a;transform:rotate(55deg);transform-origin:0 0;">Jan&nbsp;17</div>
<div class="t" style="left:176.20px;top:122.90px;font-size:1.75px;color:#5a5a5a;transform:rotate(55deg);transform-origin:0 0;">Jan&nbsp;17</div>
<div class="t" style="left:179.10px;top:122.90px;font-size:1.75px;color:#5a5a5a;transform:rotate(55deg);transform-origin:0 0;">Jan&nbsp;17</div>
<div class="t" style="left:182.00px;top:122.90px;font-size:1.75px;color:#5a5a5a;transform:rotate(55deg);transform-origin:0 0;">Jan&nbsp;17</div>
<div class="t" style="left:184.90px;top:122.90px;font-size:1.75px;color:#5a5a5a;transform:rotate(55deg);transform-origin:0 0;">Jan&nbsp;17</div>
<div class="t" style="left:187.80px;top:122.90px;font-size:1.75px;color:#5a5a5a;transform:rotate(55deg);transform-origin:0 0;">Jan&nbsp;17</div>
<div class="t" style="left:190.70px;top:122.90px;font-size:1.75px;color:#5a5a5a;transform:rotate(55deg);transform-origin:0 0;">Jan&nbsp;17</div>
<div class="t" style="left:193.60px;top:122.90px;font-size:1.75px;color:#5a5a5a;transform:rotate(55deg);transform-origin:0 0;">Jan&nbsp;17</div>
<div class="t" style="left:196.50px;top:122.90px;font-size:1.75px;color:#5a5a5a;transform:rotate(55deg);transform-origin:0 0;">Jan&nbsp;17</div>
<div class="t" style="left:199.40px;top:122.90px;font-size:1.75px;color:#5a5a5a;transform:rotate(55deg);transform-origin:0 0;">Jan&nbsp;17</div>
<div class="t" style="left:202.30px;top:122.90px;font-size:1.75px;color:#5a5a5a;transform:rotate(55deg);transform-origin:0 0;">Jan&nbsp;17</div>
<div class="t" style="left:205.20px;top:122.90px;font-size:1.75px;color:#5a5a5a;transform:rotate(55deg);transform-origin:0 0;">Jan&nbsp;17</div>
<div class="t" style="left:109.90px;top:133.89px;font-size:2.15px;color:#2b2b2b;font-weight:bold;">Aging Queries % to Plan</div>
<div class="t" style="left:116.60px;top:138.18px;font-size:1.7px;color:#666666;transform:translateX(-100%);">150</div>
<div class="t" style="left:217.80px;top:29.86px;font-size:2.0px;color:#3a3a3a;font-weight:bold;">Study</div>
<div class="t" style="left:218.30px;top:33.76px;font-size:1.95px;color:#3a3a3a;font-weight:bold;">Information</div>
<div class="t" style="left:236.50px;top:33.76px;font-size:1.95px;color:#666666;">C-Med</div>
<div class="t" style="left:218.30px;top:37.96px;font-size:1.95px;color:#575757;">Brikode</div>
<div class="t" style="left:236.50px;top:37.96px;font-size:1.95px;color:#666666;">ID0182</div>
<div class="t" style="left:218.30px;top:42.16px;font-size:1.95px;color:#575757;">Client</div>
<div class="t" style="left:236.50px;top:42.16px;font-size:1.95px;color:#666666;">R-LL</div>
<div class="t" style="left:218.30px;top:46.36px;font-size:1.95px;color:#575757;">Program</div>
<div class="t" style="left:236.50px;top:46.36px;font-size:1.95px;color:#666666;">-TL-TL</div>
<div class="t" style="left:218.30px;top:50.56px;font-size:1.95px;color:#575757;">Bus Unit</div>
<div class="t" style="left:236.50px;top:50.56px;font-size:1.95px;color:#666666;">Phase 2/3</div>
<div class="t" style="left:218.30px;top:54.76px;font-size:1.95px;color:#575757;">Phase</div>
<div class="t" style="left:236.50px;top:54.76px;font-size:1.95px;color:#666666;">Phase 3</div>
<div class="t" style="left:218.30px;top:58.96px;font-size:1.95px;color:#575757;">Therapeutic</div>
<div class="t" style="left:236.50px;top:58.96px;font-size:1.95px;color:#666666;">Cardiovascular</div>
<div class="t" style="left:218.30px;top:63.16px;font-size:1.95px;color:#575757;">Area</div>
<div class="t" style="left:236.50px;top:63.16px;font-size:1.95px;color:#666666;"></div>
<div class="t" style="left:218.30px;top:67.36px;font-size:1.95px;color:#575757;">Indication</div>
<div class="t" style="left:236.50px;top:67.36px;font-size:1.95px;color:#666666;">Other</div>
<div class="t" style="left:218.30px;top:71.56px;font-size:1.95px;color:#575757;">Status</div>
<div class="t" style="left:236.50px;top:71.56px;font-size:1.95px;color:#666666;">Awarded</div>
<div class="t" style="left:218.30px;top:75.76px;font-size:1.95px;color:#575757;">Mwt</div>
<div class="t" style="left:236.50px;top:75.76px;font-size:1.95px;color:#666666;">A</div>
<div class="t" style="left:218.30px;top:79.96px;font-size:1.95px;color:#575757;">Lock</div>
<div class="t" style="left:236.50px;top:79.96px;font-size:1.95px;color:#666666;">Last Cmp</div>
<div class="t" style="left:218.30px;top:84.16px;font-size:1.95px;color:#575757;">Milestone</div>
<div class="t" style="left:236.50px;top:84.16px;font-size:1.95px;color:#666666;">Ready for</div>
<div class="t" style="left:218.30px;top:88.36px;font-size:1.95px;color:#575757;"></div>
<div class="t" style="left:236.50px;top:88.36px;font-size:1.95px;color:#666666;">Enrollment</div>
<div class="t" style="left:217.80px;top:93.86px;font-size:2.0px;color:#3a3a3a;font-weight:bold;">Sites Ready</div>
<div class="t" style="left:218.30px;top:98.16px;font-size:1.95px;color:#575757;">Planned</div>
<div class="t" style="left:236.50px;top:98.16px;font-size:1.95px;color:#666666;">###</div>
<div class="t" style="left:218.30px;top:102.36px;font-size:1.95px;color:#575757;">Date</div>
<div class="t" style="left:236.50px;top:102.36px;font-size:1.95px;color:#666666;"></div>
<div class="t" style="left:218.30px;top:106.56px;font-size:1.95px;color:#575757;">Actual Date</div>
<div class="t" style="left:236.50px;top:106.56px;font-size:1.95px;color:#666666;">###</div>
<div class="t" style="left:218.30px;top:110.76px;font-size:1.95px;color:#575757;">Variance %</div>
<div class="t" style="left:236.50px;top:110.76px;font-size:1.95px;color:#666666;">1</div>
<div class="t" style="left:218.30px;top:114.96px;font-size:1.95px;color:#575757;">Sign</div>
<div class="t" style="left:236.50px;top:114.96px;font-size:1.95px;color:#666666;"></div>
<div class="t" style="left:218.30px;top:119.16px;font-size:1.95px;color:#575757;">% of Plan</div>
<div class="t" style="left:236.50px;top:119.16px;font-size:1.95px;color:#666666;">##</div>
<div class="t" style="left:218.30px;top:123.36px;font-size:1.95px;color:#575757;">Fcst Study</div>
<div class="t" style="left:236.50px;top:123.36px;font-size:1.95px;color:#666666;">###</div>
<div class="t" style="left:218.30px;top:127.56px;font-size:1.95px;color:#575757;">Sign</div>
<div class="t" style="left:236.50px;top:127.56px;font-size:1.95px;color:#666666;"></div>
<div class="t" style="left:217.80px;top:131.86px;font-size:2.0px;color:#3a3a3a;font-weight:bold;">Subjects</div>
<div class="t" style="left:218.30px;top:135.86px;font-size:1.95px;color:#3a3a3a;font-weight:bold;">Screened</div>
<div class="t" style="left:236.50px;top:135.86px;font-size:1.95px;color:#666666;">##</div>
</div>
</body></html>
